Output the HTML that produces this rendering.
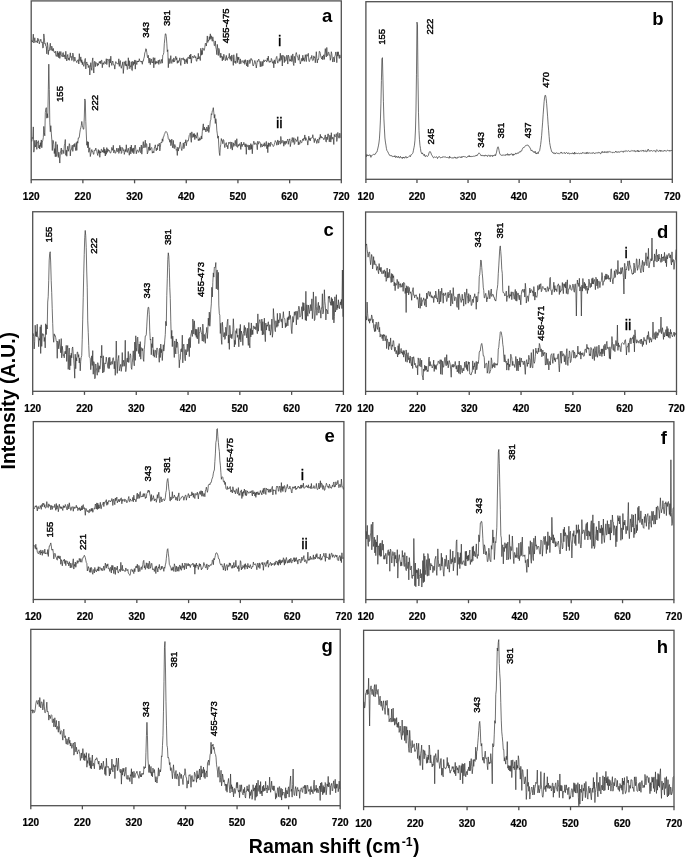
<!DOCTYPE html>
<html><head><meta charset="utf-8"><style>
html,body{margin:0;padding:0;background:#fff;}
body{width:685px;height:857px;overflow:hidden;}
svg{display:block;font-family:"Liberation Sans",sans-serif;filter:grayscale(1);}
</style></head><body>
<svg width="685" height="857" viewBox="0 0 685 857">
<rect width="685" height="857" fill="#fff"/>
<rect x="31.2" y="0.9" width="310.1" height="178.8" fill="none" stroke="#505050" stroke-width="1.3"/>
<line x1="31.2" y1="179.7" x2="31.2" y2="183.3" stroke="#505050" stroke-width="1.3"/>
<text x="31.2" y="200.2" text-anchor="middle" font-size="10" font-weight="bold" stroke="#000" stroke-width="0.2">120</text>
<line x1="82.88" y1="179.7" x2="82.88" y2="183.3" stroke="#505050" stroke-width="1.3"/>
<text x="82.88" y="200.2" text-anchor="middle" font-size="10" font-weight="bold" stroke="#000" stroke-width="0.2">220</text>
<line x1="134.57" y1="179.7" x2="134.57" y2="183.3" stroke="#505050" stroke-width="1.3"/>
<text x="134.57" y="200.2" text-anchor="middle" font-size="10" font-weight="bold" stroke="#000" stroke-width="0.2">320</text>
<line x1="186.25" y1="179.7" x2="186.25" y2="183.3" stroke="#505050" stroke-width="1.3"/>
<text x="186.25" y="200.2" text-anchor="middle" font-size="10" font-weight="bold" stroke="#000" stroke-width="0.2">420</text>
<line x1="237.93" y1="179.7" x2="237.93" y2="183.3" stroke="#505050" stroke-width="1.3"/>
<text x="237.93" y="200.2" text-anchor="middle" font-size="10" font-weight="bold" stroke="#000" stroke-width="0.2">520</text>
<line x1="289.62" y1="179.7" x2="289.62" y2="183.3" stroke="#505050" stroke-width="1.3"/>
<text x="289.62" y="200.2" text-anchor="middle" font-size="10" font-weight="bold" stroke="#000" stroke-width="0.2">620</text>
<line x1="341.3" y1="179.7" x2="341.3" y2="183.3" stroke="#505050" stroke-width="1.3"/>
<text x="341.3" y="200.2" text-anchor="middle" font-size="10" font-weight="bold" stroke="#000" stroke-width="0.2">720</text>
<rect x="365.9" y="1.7" width="306.4" height="177.6" fill="none" stroke="#505050" stroke-width="1.3"/>
<line x1="365.9" y1="179.3" x2="365.9" y2="182.9" stroke="#505050" stroke-width="1.3"/>
<text x="365.9" y="199.8" text-anchor="middle" font-size="10" font-weight="bold" stroke="#000" stroke-width="0.2">120</text>
<line x1="416.97" y1="179.3" x2="416.97" y2="182.9" stroke="#505050" stroke-width="1.3"/>
<text x="416.97" y="199.8" text-anchor="middle" font-size="10" font-weight="bold" stroke="#000" stroke-width="0.2">220</text>
<line x1="468.03" y1="179.3" x2="468.03" y2="182.9" stroke="#505050" stroke-width="1.3"/>
<text x="468.03" y="199.8" text-anchor="middle" font-size="10" font-weight="bold" stroke="#000" stroke-width="0.2">320</text>
<line x1="519.1" y1="179.3" x2="519.1" y2="182.9" stroke="#505050" stroke-width="1.3"/>
<text x="519.1" y="199.8" text-anchor="middle" font-size="10" font-weight="bold" stroke="#000" stroke-width="0.2">420</text>
<line x1="570.17" y1="179.3" x2="570.17" y2="182.9" stroke="#505050" stroke-width="1.3"/>
<text x="570.17" y="199.8" text-anchor="middle" font-size="10" font-weight="bold" stroke="#000" stroke-width="0.2">520</text>
<line x1="621.23" y1="179.3" x2="621.23" y2="182.9" stroke="#505050" stroke-width="1.3"/>
<text x="621.23" y="199.8" text-anchor="middle" font-size="10" font-weight="bold" stroke="#000" stroke-width="0.2">620</text>
<line x1="672.3" y1="179.3" x2="672.3" y2="182.9" stroke="#505050" stroke-width="1.3"/>
<text x="672.3" y="199.8" text-anchor="middle" font-size="10" font-weight="bold" stroke="#000" stroke-width="0.2">720</text>
<rect x="32.7" y="211.75" width="310.7" height="179.55" fill="none" stroke="#505050" stroke-width="1.3"/>
<line x1="32.7" y1="391.3" x2="32.7" y2="394.9" stroke="#505050" stroke-width="1.3"/>
<text x="32.7" y="411.8" text-anchor="middle" font-size="10" font-weight="bold" stroke="#000" stroke-width="0.2">120</text>
<line x1="84.48" y1="391.3" x2="84.48" y2="394.9" stroke="#505050" stroke-width="1.3"/>
<text x="84.48" y="411.8" text-anchor="middle" font-size="10" font-weight="bold" stroke="#000" stroke-width="0.2">220</text>
<line x1="136.27" y1="391.3" x2="136.27" y2="394.9" stroke="#505050" stroke-width="1.3"/>
<text x="136.27" y="411.8" text-anchor="middle" font-size="10" font-weight="bold" stroke="#000" stroke-width="0.2">320</text>
<line x1="188.05" y1="391.3" x2="188.05" y2="394.9" stroke="#505050" stroke-width="1.3"/>
<text x="188.05" y="411.8" text-anchor="middle" font-size="10" font-weight="bold" stroke="#000" stroke-width="0.2">420</text>
<line x1="239.83" y1="391.3" x2="239.83" y2="394.9" stroke="#505050" stroke-width="1.3"/>
<text x="239.83" y="411.8" text-anchor="middle" font-size="10" font-weight="bold" stroke="#000" stroke-width="0.2">520</text>
<line x1="291.62" y1="391.3" x2="291.62" y2="394.9" stroke="#505050" stroke-width="1.3"/>
<text x="291.62" y="411.8" text-anchor="middle" font-size="10" font-weight="bold" stroke="#000" stroke-width="0.2">620</text>
<line x1="343.4" y1="391.3" x2="343.4" y2="394.9" stroke="#505050" stroke-width="1.3"/>
<text x="343.4" y="411.8" text-anchor="middle" font-size="10" font-weight="bold" stroke="#000" stroke-width="0.2">720</text>
<rect x="365.6" y="212" width="310.9" height="179.4" fill="none" stroke="#505050" stroke-width="1.3"/>
<line x1="365.6" y1="391.4" x2="365.6" y2="395" stroke="#505050" stroke-width="1.3"/>
<text x="365.6" y="411.9" text-anchor="middle" font-size="10" font-weight="bold" stroke="#000" stroke-width="0.2">120</text>
<line x1="417.42" y1="391.4" x2="417.42" y2="395" stroke="#505050" stroke-width="1.3"/>
<text x="417.42" y="411.9" text-anchor="middle" font-size="10" font-weight="bold" stroke="#000" stroke-width="0.2">220</text>
<line x1="469.23" y1="391.4" x2="469.23" y2="395" stroke="#505050" stroke-width="1.3"/>
<text x="469.23" y="411.9" text-anchor="middle" font-size="10" font-weight="bold" stroke="#000" stroke-width="0.2">320</text>
<line x1="521.05" y1="391.4" x2="521.05" y2="395" stroke="#505050" stroke-width="1.3"/>
<text x="521.05" y="411.9" text-anchor="middle" font-size="10" font-weight="bold" stroke="#000" stroke-width="0.2">420</text>
<line x1="572.87" y1="391.4" x2="572.87" y2="395" stroke="#505050" stroke-width="1.3"/>
<text x="572.87" y="411.9" text-anchor="middle" font-size="10" font-weight="bold" stroke="#000" stroke-width="0.2">520</text>
<line x1="624.68" y1="391.4" x2="624.68" y2="395" stroke="#505050" stroke-width="1.3"/>
<text x="624.68" y="411.9" text-anchor="middle" font-size="10" font-weight="bold" stroke="#000" stroke-width="0.2">620</text>
<line x1="676.5" y1="391.4" x2="676.5" y2="395" stroke="#505050" stroke-width="1.3"/>
<text x="676.5" y="411.9" text-anchor="middle" font-size="10" font-weight="bold" stroke="#000" stroke-width="0.2">720</text>
<rect x="33.3" y="421.6" width="310.6" height="177.9" fill="none" stroke="#505050" stroke-width="1.3"/>
<line x1="33.3" y1="599.5" x2="33.3" y2="603.1" stroke="#505050" stroke-width="1.3"/>
<text x="33.3" y="620" text-anchor="middle" font-size="10" font-weight="bold" stroke="#000" stroke-width="0.2">120</text>
<line x1="85.07" y1="599.5" x2="85.07" y2="603.1" stroke="#505050" stroke-width="1.3"/>
<text x="85.07" y="620" text-anchor="middle" font-size="10" font-weight="bold" stroke="#000" stroke-width="0.2">220</text>
<line x1="136.83" y1="599.5" x2="136.83" y2="603.1" stroke="#505050" stroke-width="1.3"/>
<text x="136.83" y="620" text-anchor="middle" font-size="10" font-weight="bold" stroke="#000" stroke-width="0.2">320</text>
<line x1="188.6" y1="599.5" x2="188.6" y2="603.1" stroke="#505050" stroke-width="1.3"/>
<text x="188.6" y="620" text-anchor="middle" font-size="10" font-weight="bold" stroke="#000" stroke-width="0.2">420</text>
<line x1="240.37" y1="599.5" x2="240.37" y2="603.1" stroke="#505050" stroke-width="1.3"/>
<text x="240.37" y="620" text-anchor="middle" font-size="10" font-weight="bold" stroke="#000" stroke-width="0.2">520</text>
<line x1="292.13" y1="599.5" x2="292.13" y2="603.1" stroke="#505050" stroke-width="1.3"/>
<text x="292.13" y="620" text-anchor="middle" font-size="10" font-weight="bold" stroke="#000" stroke-width="0.2">620</text>
<line x1="343.9" y1="599.5" x2="343.9" y2="603.1" stroke="#505050" stroke-width="1.3"/>
<text x="343.9" y="620" text-anchor="middle" font-size="10" font-weight="bold" stroke="#000" stroke-width="0.2">720</text>
<rect x="365.8" y="421.7" width="308.1" height="177.9" fill="none" stroke="#505050" stroke-width="1.3"/>
<line x1="365.8" y1="599.6" x2="365.8" y2="603.2" stroke="#505050" stroke-width="1.3"/>
<text x="365.8" y="620.1" text-anchor="middle" font-size="10" font-weight="bold" stroke="#000" stroke-width="0.2">120</text>
<line x1="417.15" y1="599.6" x2="417.15" y2="603.2" stroke="#505050" stroke-width="1.3"/>
<text x="417.15" y="620.1" text-anchor="middle" font-size="10" font-weight="bold" stroke="#000" stroke-width="0.2">220</text>
<line x1="468.5" y1="599.6" x2="468.5" y2="603.2" stroke="#505050" stroke-width="1.3"/>
<text x="468.5" y="620.1" text-anchor="middle" font-size="10" font-weight="bold" stroke="#000" stroke-width="0.2">320</text>
<line x1="519.85" y1="599.6" x2="519.85" y2="603.2" stroke="#505050" stroke-width="1.3"/>
<text x="519.85" y="620.1" text-anchor="middle" font-size="10" font-weight="bold" stroke="#000" stroke-width="0.2">420</text>
<line x1="571.2" y1="599.6" x2="571.2" y2="603.2" stroke="#505050" stroke-width="1.3"/>
<text x="571.2" y="620.1" text-anchor="middle" font-size="10" font-weight="bold" stroke="#000" stroke-width="0.2">520</text>
<line x1="622.55" y1="599.6" x2="622.55" y2="603.2" stroke="#505050" stroke-width="1.3"/>
<text x="622.55" y="620.1" text-anchor="middle" font-size="10" font-weight="bold" stroke="#000" stroke-width="0.2">620</text>
<line x1="673.9" y1="599.6" x2="673.9" y2="603.2" stroke="#505050" stroke-width="1.3"/>
<text x="673.9" y="620.1" text-anchor="middle" font-size="10" font-weight="bold" stroke="#000" stroke-width="0.2">720</text>
<rect x="30.8" y="629.35" width="309.4" height="176.35" fill="none" stroke="#505050" stroke-width="1.3"/>
<line x1="30.8" y1="805.7" x2="30.8" y2="809.3" stroke="#505050" stroke-width="1.3"/>
<text x="30.8" y="826.2" text-anchor="middle" font-size="10" font-weight="bold" stroke="#000" stroke-width="0.2">120</text>
<line x1="82.37" y1="805.7" x2="82.37" y2="809.3" stroke="#505050" stroke-width="1.3"/>
<text x="82.37" y="826.2" text-anchor="middle" font-size="10" font-weight="bold" stroke="#000" stroke-width="0.2">220</text>
<line x1="133.93" y1="805.7" x2="133.93" y2="809.3" stroke="#505050" stroke-width="1.3"/>
<text x="133.93" y="826.2" text-anchor="middle" font-size="10" font-weight="bold" stroke="#000" stroke-width="0.2">320</text>
<line x1="185.5" y1="805.7" x2="185.5" y2="809.3" stroke="#505050" stroke-width="1.3"/>
<text x="185.5" y="826.2" text-anchor="middle" font-size="10" font-weight="bold" stroke="#000" stroke-width="0.2">420</text>
<line x1="237.07" y1="805.7" x2="237.07" y2="809.3" stroke="#505050" stroke-width="1.3"/>
<text x="237.07" y="826.2" text-anchor="middle" font-size="10" font-weight="bold" stroke="#000" stroke-width="0.2">520</text>
<line x1="288.63" y1="805.7" x2="288.63" y2="809.3" stroke="#505050" stroke-width="1.3"/>
<text x="288.63" y="826.2" text-anchor="middle" font-size="10" font-weight="bold" stroke="#000" stroke-width="0.2">620</text>
<line x1="340.2" y1="805.7" x2="340.2" y2="809.3" stroke="#505050" stroke-width="1.3"/>
<text x="340.2" y="826.2" text-anchor="middle" font-size="10" font-weight="bold" stroke="#000" stroke-width="0.2">720</text>
<rect x="363.6" y="630.3" width="310.4" height="176.3" fill="none" stroke="#505050" stroke-width="1.3"/>
<line x1="363.6" y1="806.6" x2="363.6" y2="810.2" stroke="#505050" stroke-width="1.3"/>
<text x="363.6" y="827.1" text-anchor="middle" font-size="10" font-weight="bold" stroke="#000" stroke-width="0.2">120</text>
<line x1="415.33" y1="806.6" x2="415.33" y2="810.2" stroke="#505050" stroke-width="1.3"/>
<text x="415.33" y="827.1" text-anchor="middle" font-size="10" font-weight="bold" stroke="#000" stroke-width="0.2">220</text>
<line x1="467.07" y1="806.6" x2="467.07" y2="810.2" stroke="#505050" stroke-width="1.3"/>
<text x="467.07" y="827.1" text-anchor="middle" font-size="10" font-weight="bold" stroke="#000" stroke-width="0.2">320</text>
<line x1="518.8" y1="806.6" x2="518.8" y2="810.2" stroke="#505050" stroke-width="1.3"/>
<text x="518.8" y="827.1" text-anchor="middle" font-size="10" font-weight="bold" stroke="#000" stroke-width="0.2">420</text>
<line x1="570.53" y1="806.6" x2="570.53" y2="810.2" stroke="#505050" stroke-width="1.3"/>
<text x="570.53" y="827.1" text-anchor="middle" font-size="10" font-weight="bold" stroke="#000" stroke-width="0.2">520</text>
<line x1="622.27" y1="806.6" x2="622.27" y2="810.2" stroke="#505050" stroke-width="1.3"/>
<text x="622.27" y="827.1" text-anchor="middle" font-size="10" font-weight="bold" stroke="#000" stroke-width="0.2">620</text>
<line x1="674" y1="806.6" x2="674" y2="810.2" stroke="#505050" stroke-width="1.3"/>
<text x="674" y="827.1" text-anchor="middle" font-size="10" font-weight="bold" stroke="#000" stroke-width="0.2">720</text>
<polyline fill="none" stroke="#333" stroke-width="0.7" stroke-linejoin="round" points="31.8,40.07 32.3,42.15 32.8,40.38 33.3,34.13 33.8,43.02 34.3,41.41 34.8,37.75 35.3,42.31 35.8,41.65 36.3,41.56 36.8,40.73 37.3,42.92 37.8,38.17 38.3,40.57 38.8,39.54 39.3,43.86 39.8,41.92 40.3,40.85 40.8,39.2 41.3,41.38 41.8,42.6 42.3,41.9 42.8,48.11 43.3,47.39 43.8,33.95 44.3,37.38 44.8,44.07 45.3,43.52 45.8,46.21 46.3,46.58 46.8,53.84 47.3,42.47 47.8,45.49 48.3,54.63 48.8,50.04 49.3,50.54 49.8,46.79 50.3,43.21 50.8,50.11 51.3,50.36 51.8,46.1 52.3,48.47 52.8,51.07 53.3,48.38 53.8,51.62 54.3,52.57 54.8,52.65 55.3,51.07 55.8,55.14 56.3,56.43 56.8,54.76 57.3,51.18 57.8,56.72 58.3,52.84 58.8,57.77 59.3,51.51 59.8,58.44 60.3,55.5 60.8,51.51 61.3,54.73 61.8,56.05 62.3,56.88 62.8,52.83 63.3,52.53 63.8,56.95 64.3,54.86 64.8,57.28 65.3,59.1 65.8,51.29 66.3,57.65 66.8,60.93 67.3,56.05 67.8,54.47 68.3,59.68 68.8,58.16 69.3,60.35 69.8,56.42 70.3,52.83 70.8,57.39 71.3,56.41 71.8,60.47 72.3,58.74 72.8,53.05 73.3,54.65 73.8,61.54 74.3,61.07 74.8,57.02 75.3,59.27 75.8,60.89 76.3,61.15 76.8,62.64 77.3,60.86 77.8,59.93 78.3,59.6 78.8,63.97 79.3,53.67 79.8,60.56 80.3,61.3 80.8,56.88 81.3,62.63 81.8,59.72 82.3,64.68 82.8,61.76 83.3,64.45 83.8,66.36 84.3,63.93 84.8,60.18 85.3,58.45 85.8,68.95 86.3,63.43 86.8,61.94 87.3,64.83 87.8,64.09 88.3,67.62 88.8,65.38 89.3,65.62 89.8,75 90.3,67.39 90.8,62.66 91.3,67.79 91.8,70.32 92.3,60.87 92.8,57.89 93.3,67.23 93.8,73.02 94.3,62.09 94.8,61.23 95.3,66.73 95.8,62.29 96.3,63.21 96.8,63.59 97.3,66.15 97.8,63.22 98.3,65.18 98.8,63.71 99.3,61.6 99.8,63.08 100.3,61.06 100.8,63.79 101.3,60.26 101.8,60.21 102.3,67.71 102.8,63.04 103.3,62.9 103.8,64.45 104.3,61.51 104.8,61.94 105.3,63.76 105.8,63.19 106.3,58.72 106.8,64.56 107.3,60.27 107.8,58.95 108.3,59.5 108.8,61.11 109.3,67.24 109.8,58.9 110.3,62.99 110.8,56.17 111.3,62.66 111.8,65.44 112.3,62.11 112.8,61 113.3,63.66 113.8,65.15 114.3,65.11 114.8,69.12 115.3,63.9 115.8,61.58 116.3,63.05 116.8,63.29 117.3,63.91 117.8,63.57 118.3,64.26 118.8,58.8 119.3,66.38 119.8,62.25 120.3,60.56 120.8,66.11 121.3,68.28 121.8,65.93 122.3,65.06 122.8,61.9 123.3,73.44 123.8,67.59 124.3,61.66 124.8,62.86 125.3,65.59 125.8,60.79 126.3,66.08 126.8,64.32 127.3,69.5 127.8,68.84 128.3,57.77 128.8,65.86 129.3,60.71 129.8,68.73 130.3,65.74 130.8,66.71 131.3,61.7 131.8,70.22 132.3,70.63 132.8,61.21 133.3,65.35 133.8,62.05 134.3,63.83 134.8,59.94 135.3,69.17 135.8,60.49 136.3,62.35 136.8,64.57 137.3,60.96 137.8,62.02 138.3,60.88 138.8,62 139.3,58.72 139.8,60.75 140.3,61.39 140.8,61.02 141.3,62.2 141.8,61.16 142.3,64.27 142.8,60.93 143.3,61.05 143.8,58.56 144.3,56.96 144.8,52.86 145.3,51.87 145.8,48.65 146.3,49.08 146.8,52.46 147.3,56.35 147.8,57.83 148.3,55.27 148.8,62.95 149.3,62.88 149.8,58.01 150.3,64.59 150.8,60.2 151.3,58.94 151.8,62.61 152.3,61.81 152.8,62.96 153.3,57.55 153.8,67.82 154.3,60.59 154.8,57.79 155.3,64.28 155.8,61.37 156.3,63.43 156.8,61.45 157.3,62.3 157.8,63.23 158.3,60.22 158.8,64.44 159.3,60.94 159.8,59.68 160.3,62.46 160.8,63.5 161.3,61.38 161.8,59.29 162.3,63.17 162.8,55.07 163.3,54.65 163.8,52.62 164.3,43.7 164.8,38.82 165.3,33.89 165.8,33.81 166.3,36.62 166.8,43.2 167.3,51.61 167.8,49.81 168.3,67.68 168.8,58.37 169.3,58.75 169.8,63.63 170.3,60.92 170.8,55.65 171.3,62.82 171.8,63.44 172.3,59.47 172.8,59.91 173.3,62.16 173.8,57.91 174.3,61.9 174.8,61.12 175.3,58.45 175.8,56.27 176.3,59.73 176.8,57.75 177.3,63.34 177.8,60.73 178.3,62.61 178.8,60.63 179.3,60.98 179.8,57.81 180.3,62.13 180.8,65.44 181.3,59.12 181.8,58.24 182.3,59.49 182.8,58.47 183.3,57.76 183.8,60.22 184.3,58.88 184.8,64.02 185.3,59.65 185.8,60.56 186.3,62.4 186.8,58.58 187.3,63.74 187.8,57.48 188.3,56.9 188.8,58.17 189.3,58.87 189.8,54.96 190.3,59 190.8,54.05 191.3,63.17 191.8,58.69 192.3,56.94 192.8,56.08 193.3,57.58 193.8,57.99 194.3,55.44 194.8,55.72 195.3,57.81 195.8,56.68 196.3,60.94 196.8,61.39 197.3,57.86 197.8,59.02 198.3,53.35 198.8,58.96 199.3,56.59 199.8,57.7 200.3,60.53 200.8,48.29 201.3,55.24 201.8,50.38 202.3,54.59 202.8,47.91 203.3,49.32 203.8,50.28 204.3,50.32 204.8,47.46 205.3,43.57 205.8,43 206.3,46.04 206.8,42.14 207.3,35.95 207.8,42.47 208.3,40.26 208.8,40.86 209.3,36.63 209.8,39.71 210.3,33.84 210.8,38.74 211.3,35.77 211.8,39.68 212.3,41.27 212.8,36.82 213.3,39.8 213.8,41.11 214.3,45.71 214.8,45.48 215.3,40.93 215.8,47.22 216.3,49.32 216.8,54.66 217.3,44.4 217.8,48.91 218.3,55.51 218.8,48.35 219.3,49.64 219.8,55.51 220.3,57.64 220.8,53.12 221.3,57.21 221.8,56.33 222.3,60.85 222.8,56.55 223.3,59.74 223.8,54.22 224.3,56.5 224.8,56.87 225.3,60.72 225.8,59.23 226.3,55.41 226.8,59.86 227.3,60.27 227.8,57.77 228.3,57.46 228.8,57.78 229.3,53.4 229.8,59.17 230.3,59.43 230.8,56.25 231.3,61.19 231.8,54.97 232.3,57.55 232.8,57.89 233.3,65.4 233.8,54.76 234.3,61.36 234.8,62.61 235.3,61.04 235.8,63.57 236.3,57.13 236.8,53.41 237.3,62.67 237.8,56.9 238.3,59.62 238.8,57.18 239.3,63.99 239.8,63.55 240.3,58.86 240.8,63.78 241.3,61.47 241.8,60.73 242.3,61.36 242.8,60.63 243.3,63.12 243.8,62.25 244.3,60.31 244.8,64.42 245.3,59.61 245.8,62.34 246.3,62.79 246.8,66 247.3,60.09 247.8,66.88 248.3,62.22 248.8,61.15 249.3,59.76 249.8,63.58 250.3,62.01 250.8,58.59 251.3,58.56 251.8,60.32 252.3,59.95 252.8,65.2 253.3,66.02 253.8,64.46 254.3,62.88 254.8,60.48 255.3,61.89 255.8,64.34 256.3,68.03 256.8,64.34 257.3,60.72 257.8,61.63 258.3,60.03 258.8,59.09 259.3,60.84 259.8,61.94 260.3,66.82 260.8,61.42 261.3,65.3 261.8,66.49 262.3,61.38 262.8,65.92 263.3,63.2 263.8,59.76 264.3,61.77 264.8,61 265.3,60.19 265.8,60.25 266.3,61.24 266.8,62.07 267.3,58.07 267.8,60.66 268.3,56.07 268.8,61.38 269.3,62.43 269.8,61.01 270.3,61.33 270.8,62.2 271.3,58.4 271.8,59.63 272.3,61.84 272.8,63.27 273.3,61.41 273.8,67.84 274.3,59.87 274.8,63.1 275.3,63.86 275.8,59.62 276.3,57.51 276.8,56.39 277.3,60.38 277.8,63.18 278.3,60.62 278.8,60.29 279.3,58.59 279.8,61.37 280.3,53.23 280.8,60.3 281.3,59.64 281.8,55.41 282.3,66 282.8,55.27 283.3,56.16 283.8,55.75 284.3,62.64 284.8,56.6 285.3,61.23 285.8,60.95 286.3,59.92 286.8,55.18 287.3,57.22 287.8,64.04 288.3,55.11 288.8,56.46 289.3,58.44 289.8,61.32 290.3,59.62 290.8,61.06 291.3,55.6 291.8,61.61 292.3,60.45 292.8,53.93 293.3,63.31 293.8,65.54 294.3,56.32 294.8,58.77 295.3,62.76 295.8,54.1 296.3,52.54 296.8,54.59 297.3,56.75 297.8,56.69 298.3,60.22 298.8,59.17 299.3,54.6 299.8,60.01 300.3,63.9 300.8,61.84 301.3,61.19 301.8,58.25 302.3,61.11 302.8,55.23 303.3,60.35 303.8,57.81 304.3,61.43 304.8,59.41 305.3,54.71 305.8,58.34 306.3,61.58 306.8,54.51 307.3,56.19 307.8,55.53 308.3,53.32 308.8,60.66 309.3,61.68 309.8,60.12 310.3,58.42 310.8,57.5 311.3,58.35 311.8,55.41 312.3,60.25 312.8,60.68 313.3,60.31 313.8,55.89 314.3,57.69 314.8,56.93 315.3,62.76 315.8,57.9 316.3,51.69 316.8,58.5 317.3,62.92 317.8,59.3 318.3,59.86 318.8,57.3 319.3,51.24 319.8,51.7 320.3,53.36 320.8,56.69 321.3,57.97 321.8,59.08 322.3,55.96 322.8,59.82 323.3,56.08 323.8,54.78 324.3,59.42 324.8,54.09 325.3,48.62 325.8,53.6 326.3,57.03 326.8,47.48 327.3,55.62 327.8,55.66 328.3,52.35 328.8,52.15 329.3,55.18 329.8,54.9 330.3,60.29 330.8,57.61 331.3,51.71 331.8,53.86 332.3,58.51 332.8,62.05 333.3,57.49 333.8,57.24 334.3,61.86 334.8,56.18 335.3,55.29 335.8,51.95 336.3,54.62 336.8,62.67 337.3,51.83 337.8,56.1 338.3,51.82 338.8,56.4 339.3,58.51 339.8,54.87 340.3,57.54 340.8,57.26"/>
<polyline fill="none" stroke="#333" stroke-width="0.7" stroke-linejoin="round" points="31.8,141.45 32.3,137.53 32.8,138.51 33.3,126.9 33.8,152.15 34.3,148.6 34.8,140.34 35.3,147.04 35.8,144.49 36.3,140.11 36.8,149.37 37.3,142.48 37.8,142.85 38.3,140.67 38.8,148.09 39.3,145.27 39.8,149.06 40.3,142.67 40.8,146.55 41.3,139.94 41.8,147.78 42.3,142.07 42.8,140.25 43.3,137.6 43.8,126.41 44.3,132.52 44.8,135.79 45.3,112.62 45.8,109.02 46.3,107.66 46.8,118.22 47.3,113.67 47.8,117.72 48.3,89.85 48.8,64.16 49.3,89.27 49.8,122.87 50.3,131.72 50.8,125.7 51.3,133.04 51.8,139.8 52.3,150.54 52.8,140.17 53.3,140.62 53.8,144.78 54.3,153.56 54.8,148.59 55.3,156.81 55.8,141.65 56.3,156.47 56.8,156.2 57.3,144.59 57.8,152.25 58.3,157.41 58.8,152.17 59.3,156.55 59.8,163.06 60.3,153.17 60.8,150.44 61.3,148.02 61.8,154.37 62.3,150.34 62.8,150.26 63.3,150.43 63.8,153.64 64.3,145.82 64.8,143.63 65.3,139.52 65.8,155.31 66.3,150.22 66.8,156.27 67.3,149.53 67.8,146.23 68.3,151.27 68.8,148.74 69.3,143.63 69.8,145.04 70.3,155.9 70.8,149.86 71.3,149.94 71.8,146.93 72.3,145.12 72.8,151.36 73.3,147.2 73.8,144.43 74.3,146.72 74.8,143.44 75.3,147.41 75.8,150.61 76.3,142.43 76.8,150.35 77.3,141.34 77.8,143.16 78.3,137.85 78.8,138.25 79.3,137.06 79.8,132.87 80.3,129.68 80.8,127.8 81.3,125.51 81.8,121.44 82.3,125.23 82.8,127.29 83.3,129.25 83.8,129.12 84.3,117.02 84.8,98.96 85.3,100.76 85.8,121.6 86.3,134 86.8,145.25 87.3,141.52 87.8,147.89 88.3,141.89 88.8,152.3 89.3,149.72 89.8,147.76 90.3,156.55 90.8,153.93 91.3,151.87 91.8,149.55 92.3,151.78 92.8,151.46 93.3,154.15 93.8,154.36 94.3,150.02 94.8,150.39 95.3,150.44 95.8,148.07 96.3,150.24 96.8,151.64 97.3,153.8 97.8,155.51 98.3,149.59 98.8,153.29 99.3,150.55 99.8,157.28 100.3,151.57 100.8,153.01 101.3,149.14 101.8,149.45 102.3,152.12 102.8,150.53 103.3,152.47 103.8,147.33 104.3,153.23 104.8,149.04 105.3,156 105.8,150.61 106.3,154.28 106.8,147.61 107.3,152.44 107.8,148.9 108.3,149.94 108.8,151.28 109.3,150.34 109.8,151.86 110.3,153.12 110.8,152.84 111.3,150.84 111.8,147.4 112.3,148.87 112.8,150.46 113.3,145.3 113.8,152.93 114.3,150.26 114.8,150.2 115.3,153.37 115.8,152.59 116.3,151.37 116.8,148.08 117.3,151.55 117.8,151.62 118.3,148.31 118.8,153.42 119.3,151.97 119.8,145.33 120.3,150.88 120.8,147.15 121.3,153.53 121.8,152.62 122.3,147.5 122.8,148.05 123.3,150.65 123.8,149.72 124.3,154.39 124.8,152.27 125.3,149.52 125.8,151.78 126.3,144.79 126.8,151.01 127.3,152.46 127.8,149.65 128.3,148.2 128.8,151.58 129.3,155.26 129.8,150.56 130.3,147.03 130.8,153.9 131.3,145.06 131.8,151.44 132.3,148.58 132.8,152.64 133.3,147.92 133.8,153.74 134.3,151.04 134.8,145.66 135.3,145.03 135.8,149.48 136.3,153.8 136.8,150.72 137.3,150.58 137.8,149.8 138.3,152.43 138.8,151.5 139.3,150.98 139.8,147.17 140.3,152.52 140.8,152.55 141.3,145 141.8,154.17 142.3,149.51 142.8,145.85 143.3,141.63 143.8,148.02 144.3,147.31 144.8,143.79 145.3,140.17 145.8,147.5 146.3,143.54 146.8,144.45 147.3,153.9 147.8,152.59 148.3,150.07 148.8,146.91 149.3,150.47 149.8,143.25 150.3,150.23 150.8,148.52 151.3,147.72 151.8,147.54 152.3,153.18 152.8,151.65 153.3,151.47 153.8,152.92 154.3,148.05 154.8,146.64 155.3,144.83 155.8,148.31 156.3,150.86 156.8,148.06 157.3,149.8 157.8,144.57 158.3,146.08 158.8,144.9 159.3,143.2 159.8,150.9 160.3,147.67 160.8,142.85 161.3,142.04 161.8,142.85 162.3,138.84 162.8,141.36 163.3,136.87 163.8,136.72 164.3,134.45 164.8,133.56 165.3,132.05 165.8,131.44 166.3,131.65 166.8,132.25 167.3,133.47 167.8,135.18 168.3,138.74 168.8,139.55 169.3,139.08 169.8,142.25 170.3,139.92 170.8,145.66 171.3,143.86 171.8,139.14 172.3,145.83 172.8,147.86 173.3,140.36 173.8,147.29 174.3,148.59 174.8,144.48 175.3,146.54 175.8,146.62 176.3,150.27 176.8,149.48 177.3,155.45 177.8,147.16 178.3,151.05 178.8,147.95 179.3,148.23 179.8,144.18 180.3,141.94 180.8,144.75 181.3,148.6 181.8,150.55 182.3,147.7 182.8,147 183.3,142.89 183.8,148.67 184.3,147.62 184.8,142.08 185.3,142.82 185.8,139.74 186.3,145.77 186.8,142.39 187.3,140.51 187.8,141.3 188.3,140.85 188.8,138.03 189.3,135.27 189.8,134.61 190.3,132.86 190.8,138.18 191.3,142.32 191.8,131.87 192.3,136.77 192.8,137.5 193.3,133.77 193.8,136.95 194.3,133.47 194.8,139.6 195.3,134.82 195.8,136.67 196.3,138.22 196.8,135.63 197.3,132.63 197.8,136.62 198.3,140.7 198.8,139.07 199.3,140.53 199.8,137.67 200.3,140.03 200.8,139.68 201.3,135.91 201.8,138.99 202.3,131.43 202.8,127.29 203.3,123.84 203.8,130.13 204.3,127.06 204.8,130.07 205.3,128.74 205.8,132.01 206.3,131.21 206.8,126.98 207.3,128.87 207.8,131.19 208.3,125.15 208.8,132.47 209.3,129.42 209.8,126.4 210.3,120.84 210.8,119.77 211.3,113.71 211.8,114.66 212.3,110.76 212.8,110.38 213.3,107.68 213.8,112.76 214.3,118.14 214.8,114.51 215.3,123.47 215.8,118.69 216.3,121.51 216.8,130.22 217.3,133.83 217.8,138.26 218.3,135.95 218.8,145.93 219.3,152.79 219.8,155.55 220.3,147.26 220.8,144.28 221.3,138.54 221.8,140.88 222.3,140.43 222.8,143.73 223.3,139.46 223.8,140.11 224.3,144.11 224.8,147.59 225.3,144.07 225.8,144.1 226.3,142.61 226.8,146.67 227.3,145.45 227.8,148.87 228.3,145.37 228.8,142.19 229.3,143.44 229.8,142.57 230.3,141.89 230.8,148.63 231.3,147.44 231.8,142.01 232.3,150.1 232.8,146.03 233.3,142.85 233.8,146.46 234.3,145.28 234.8,143.43 235.3,140.34 235.8,145.65 236.3,146.36 236.8,138.73 237.3,147.12 237.8,147.32 238.3,144.44 238.8,146.03 239.3,145.01 239.8,143.55 240.3,144.85 240.8,149.45 241.3,142.01 241.8,146.54 242.3,146.42 242.8,144.07 243.3,144.82 243.8,142.29 244.3,143.78 244.8,146.12 245.3,146.98 245.8,143.74 246.3,154.32 246.8,144.67 247.3,146.56 247.8,145.64 248.3,145.22 248.8,149.78 249.3,145.07 249.8,149.93 250.3,149.45 250.8,143.64 251.3,149.22 251.8,144.75 252.3,153.76 252.8,145.37 253.3,143.83 253.8,141.18 254.3,142.76 254.8,144.6 255.3,143.43 255.8,142.75 256.3,144.11 256.8,145.35 257.3,149.7 257.8,141.23 258.3,144.24 258.8,143.11 259.3,141.55 259.8,142.15 260.3,143.05 260.8,147.31 261.3,144.82 261.8,143.84 262.3,146.84 262.8,145.9 263.3,144.49 263.8,146.05 264.3,142.75 264.8,146.57 265.3,146.08 265.8,143.68 266.3,141.46 266.8,148.7 267.3,144.84 267.8,152.66 268.3,142.72 268.8,146.67 269.3,143.18 269.8,144.95 270.3,146.43 270.8,142.02 271.3,143.82 271.8,144.45 272.3,144.27 272.8,145.49 273.3,146.57 273.8,146 274.3,144.41 274.8,142.72 275.3,140.58 275.8,141.56 276.3,142.05 276.8,145.22 277.3,142.37 277.8,139.96 278.3,144.88 278.8,141.01 279.3,141.05 279.8,142.42 280.3,144.22 280.8,136.46 281.3,139.85 281.8,143.24 282.3,141.74 282.8,140.34 283.3,141.14 283.8,146.22 284.3,141.25 284.8,144.3 285.3,144.45 285.8,141.07 286.3,143.4 286.8,140.95 287.3,140.46 287.8,139.02 288.3,144.3 288.8,140.86 289.3,140.4 289.8,138.82 290.3,146.6 290.8,143.7 291.3,141.32 291.8,139.77 292.3,137.5 292.8,142.31 293.3,142.25 293.8,137.68 294.3,144.48 294.8,143.4 295.3,138.72 295.8,139.75 296.3,140.05 296.8,141.57 297.3,140.7 297.8,136.67 298.3,144.92 298.8,141.78 299.3,144.25 299.8,144.19 300.3,140.24 300.8,141.66 301.3,142.66 301.8,142.7 302.3,140.16 302.8,138.9 303.3,140.59 303.8,138.31 304.3,138.92 304.8,134.94 305.3,140.53 305.8,137.52 306.3,138.72 306.8,140.02 307.3,140.94 307.8,145.1 308.3,140.55 308.8,136.19 309.3,140.26 309.8,138.27 310.3,140.88 310.8,137.94 311.3,137.83 311.8,138.3 312.3,137.94 312.8,134.7 313.3,137.74 313.8,139.43 314.3,142.62 314.8,138.59 315.3,138.33 315.8,140.82 316.3,140.66 316.8,143.44 317.3,140.69 317.8,139.03 318.3,142.6 318.8,143.06 319.3,137.66 319.8,139.3 320.3,134.35 320.8,137.81 321.3,136.38 321.8,138.12 322.3,137.35 322.8,138.15 323.3,138.26 323.8,139.81 324.3,139.06 324.8,136.89 325.3,134.91 325.8,141.59 326.3,142.02 326.8,136.98 327.3,139.64 327.8,134.03 328.3,133.88 328.8,137.28 329.3,141.88 329.8,135.11 330.3,135.63 330.8,142.09 331.3,132.71 331.8,139.43 332.3,138.96 332.8,137.06 333.3,138.06 333.8,144.5 334.3,134.46 334.8,136.57 335.3,136.73 335.8,135.47 336.3,133.69 336.8,141.46 337.3,137.75 337.8,132.43 338.3,135.19 338.8,138.1 339.3,138.08 339.8,133.16 340.3,136.76 340.8,137.7"/>
<text transform="translate(149.06,29.8) rotate(-90)" text-anchor="middle" font-size="9.5" font-weight="normal" stroke="#000" stroke-width="0.4">343</text>
<text transform="translate(169.86,18.1) rotate(-90)" text-anchor="middle" font-size="9.5" font-weight="normal" stroke="#000" stroke-width="0.4">381</text>
<text transform="translate(62.66,94) rotate(-90)" text-anchor="middle" font-size="9.5" font-weight="normal" stroke="#000" stroke-width="0.4">155</text>
<text transform="translate(98.06,102.8) rotate(-90)" text-anchor="middle" font-size="9.5" font-weight="normal" stroke="#000" stroke-width="0.4">222</text>
<text transform="translate(228.86,25.9) rotate(-90)" text-anchor="middle" font-size="9.5" font-weight="normal" stroke="#000" stroke-width="0.4">455-475</text>
<text x="279.6" y="45.7" text-anchor="middle" font-size="15" font-weight="normal" stroke="#000" stroke-width="0.35">i</text>
<text x="279.3" y="128.1" text-anchor="middle" font-size="15" font-weight="normal" stroke="#000" stroke-width="0.35">ii</text>
<text x="322.1" y="21.5" text-anchor="start" font-size="18.5" font-weight="bold">a</text>
<polyline fill="none" stroke="#333" stroke-width="0.7" stroke-linejoin="round" points="366.4,156.88 366.9,154.45 367.4,156.03 367.9,155.5 368.4,155.55 368.9,155.66 369.4,154.68 369.9,155.59 370.41,155.2 370.91,157.35 371.41,155.64 371.91,155.23 372.41,155.15 372.91,154.79 373.41,154.4 373.91,154.52 374.41,154.69 374.91,153.96 375.41,154.1 375.91,152.9 376.41,152.25 376.91,152.05 377.41,150.27 377.92,148.06 378.42,145.92 378.92,143.01 379.42,138.92 379.92,130.9 380.42,120.08 380.92,103.88 381.42,80.46 381.92,59.09 382.42,57.67 382.92,77.88 383.42,101.29 383.92,118.92 384.42,128.95 384.92,138.01 385.42,142.07 385.93,145.13 386.43,148.49 386.93,150.49 387.43,151.26 387.93,151.97 388.43,153.35 388.93,153.96 389.43,155.24 389.93,155.34 390.43,155.41 390.93,156.19 391.43,155.75 391.93,155.59 392.43,156.57 392.93,156.73 393.44,156.46 393.94,156.28 394.44,156.93 394.94,155.59 395.44,157.36 395.94,157.34 396.44,156.28 396.94,157.25 397.44,156.76 397.94,157.73 398.44,156.3 398.94,156.94 399.44,157.84 399.94,158.12 400.44,156.4 400.95,157.31 401.45,157.79 401.95,157.32 402.45,158.49 402.95,156.98 403.45,157.77 403.95,156.98 404.45,158.25 404.95,157.44 405.45,157.2 405.95,156.42 406.45,158.15 406.95,157.57 407.45,157.47 407.95,157.56 408.46,157 408.96,156.32 409.46,156.03 409.96,155.79 410.46,156.61 410.96,154.73 411.46,154.69 411.96,154.2 412.46,153.65 412.96,152.71 413.46,150.22 413.96,147.72 414.46,145.14 414.96,140.11 415.46,130.03 415.96,111.06 416.47,74.18 416.97,22.11 417.47,24.87 417.97,77.6 418.47,112.22 418.97,130.44 419.47,139.74 419.97,145.43 420.47,148.58 420.97,151.93 421.47,152.88 421.97,153.93 422.47,152.85 422.97,154.32 423.47,154.62 423.98,155.56 424.48,154.36 424.98,156.4 425.48,156.54 425.98,155.45 426.48,155.77 426.98,156 427.48,156.53 427.98,155.93 428.48,155.04 428.98,152.97 429.48,151.95 429.98,151.41 430.48,152 430.98,153.06 431.49,154.73 431.99,155.18 432.49,156.43 432.99,156.66 433.49,157.89 433.99,157.47 434.49,156.99 434.99,156.93 435.49,157.44 435.99,156.83 436.49,156.72 436.99,157.49 437.49,158.56 437.99,157.13 438.49,156.97 439,156.65 439.5,156.58 440,157.58 440.5,157.76 441,157.32 441.5,157.5 442,157.39 442.5,157.41 443,156.53 443.5,157.1 444,157.41 444.5,156.94 445,157.11 445.5,156.93 446,157.2 446.5,157.83 447.01,157.16 447.51,157.3 448.01,157.82 448.51,157.74 449.01,158.3 449.51,156.28 450.01,157.86 450.51,157.15 451.01,157.48 451.51,157.86 452.01,157.99 452.51,157.97 453.01,157.5 453.51,158.25 454.01,157.21 454.52,157.26 455.02,157.74 455.52,156.99 456.02,158.41 456.52,157.78 457.02,158.37 457.52,157.17 458.02,156.95 458.52,157.22 459.02,157.5 459.52,156.77 460.02,157.25 460.52,157.02 461.02,157.86 461.52,156.62 462.03,157.5 462.53,156.58 463.03,156.38 463.53,156.49 464.03,156.2 464.53,156.89 465.03,157.34 465.53,156.85 466.03,157.06 466.53,157.58 467.03,156.82 467.53,156.76 468.03,156.48 468.53,155.74 469.03,156.98 469.54,155.61 470.04,156.86 470.54,156.48 471.04,157.06 471.54,156.4 472.04,155.97 472.54,156.57 473.04,156.05 473.54,156.23 474.04,156.32 474.54,156.2 475.04,156.14 475.54,155.77 476.04,156.08 476.54,154.95 477.04,155.64 477.55,154.62 478.05,154.44 478.55,153.48 479.05,152.84 479.55,153.42 480.05,154.2 480.55,154.64 481.05,155.83 481.55,155.57 482.05,154.93 482.55,155.71 483.05,155.74 483.55,155.86 484.05,155.12 484.55,156.08 485.06,156.12 485.56,155.09 486.06,155.32 486.56,155.61 487.06,155.32 487.56,156.53 488.06,155.69 488.56,155.01 489.06,155.11 489.56,155.47 490.06,156.7 490.56,155.36 491.06,155.5 491.56,155.68 492.06,155.36 492.57,156.57 493.07,155.04 493.57,155.7 494.07,155.36 494.57,155.58 495.07,154.51 495.57,155.69 496.07,153.84 496.57,152.16 497.07,149.47 497.57,147.37 498.07,146.76 498.57,148.09 499.07,150.54 499.57,153.08 500.08,154.36 500.58,154.68 501.08,155.32 501.58,155.22 502.08,154.83 502.58,155.24 503.08,155.52 503.58,154.93 504.08,154.59 504.58,155.14 505.08,155.75 505.58,154.6 506.08,154.63 506.58,154.58 507.08,155.28 507.58,153.63 508.09,154.78 508.59,155.19 509.09,154.1 509.59,155.3 510.09,154.77 510.59,154.18 511.09,154.56 511.59,153.62 512.09,154.12 512.59,155.37 513.09,153.89 513.59,155.32 514.09,154.26 514.59,154.78 515.09,154.22 515.6,152.93 516.1,153.72 516.6,154.01 517.1,153.15 517.6,152.86 518.1,153.54 518.6,152.72 519.1,151.84 519.6,151.99 520.1,152.37 520.6,151.15 521.1,151.34 521.6,151.06 522.1,149.62 522.6,148.35 523.11,147.6 523.61,147.65 524.11,147.54 524.61,146.7 525.11,146.41 525.61,145.55 526.11,145.74 526.61,145.25 527.11,145.38 527.61,145.04 528.11,145.19 528.61,146.18 529.11,146.34 529.61,146.98 530.11,148.45 530.62,148.65 531.12,150.88 531.62,150.43 532.12,150.16 532.62,151.44 533.12,151.68 533.62,151.54 534.12,152.84 534.62,152.13 535.12,151.16 535.62,153.41 536.12,152.8 536.62,154.04 537.12,152.99 537.62,152.6 538.12,153.71 538.63,151.76 539.13,151.5 539.63,150.67 540.13,147.83 540.63,144.67 541.13,140.63 541.63,135.66 542.13,128.77 542.63,122.16 543.13,114.75 543.63,107.98 544.13,101.49 544.63,97.14 545.13,95.2 545.63,95.52 546.14,98.44 546.64,103.37 547.14,110 547.64,116.82 548.14,124.27 548.64,130.19 549.14,136.68 549.64,142.57 550.14,145.3 550.64,147.99 551.14,149.6 551.64,151.75 552.14,152.3 552.64,152.03 553.14,153.26 553.65,153.18 554.15,153.5 554.65,152.78 555.15,154.05 555.65,153.34 556.15,153.05 556.65,152.82 557.15,152.95 557.65,153.53 558.15,152.92 558.65,153.62 559.15,153.35 559.65,153.74 560.15,153.45 560.65,152.97 561.16,151.98 561.66,153.16 562.16,153.43 562.66,153.1 563.16,153.32 563.66,152.77 564.16,152.83 564.66,152.53 565.16,153.77 565.66,153.13 566.16,152.79 566.66,152.35 567.16,152.98 567.66,153.84 568.16,153.32 568.66,152.7 569.17,153.85 569.67,153.86 570.17,153.62 570.67,153.53 571.17,153.73 571.67,153.41 572.17,153.54 572.67,152.71 573.17,153.94 573.67,153.26 574.17,154.23 574.67,152.06 575.17,153.53 575.67,153.69 576.17,152.99 576.68,153.42 577.18,153.58 577.68,153.5 578.18,152.91 578.68,153.12 579.18,153.75 579.68,153.89 580.18,153.27 580.68,153.26 581.18,153.34 581.68,153.79 582.18,152.68 582.68,152.54 583.18,153.32 583.68,152.67 584.19,152.95 584.69,153.31 585.19,153.53 585.69,152.71 586.19,153.71 586.69,152.35 587.19,153.58 587.69,152.42 588.19,152.55 588.69,153.55 589.19,152.96 589.69,152.73 590.19,152.89 590.69,153.35 591.19,153.04 591.7,153.03 592.2,153.58 592.7,152.61 593.2,152.71 593.7,152.66 594.2,153.53 594.7,153.41 595.2,153.54 595.7,152.81 596.2,152.72 596.7,153.23 597.2,152.54 597.7,153.17 598.2,153.08 598.7,152.3 599.2,152.6 599.71,152.55 600.21,153.51 600.71,153.94 601.21,152.48 601.71,152.52 602.21,151.27 602.71,152.57 603.21,152.43 603.71,151.83 604.21,152.79 604.71,151.51 605.21,152.21 605.71,152.37 606.21,151.6 606.71,152.7 607.22,152.78 607.72,151.45 608.22,151.41 608.72,152.46 609.22,152.09 609.72,151.44 610.22,151.9 610.72,151.97 611.22,151.92 611.72,152.42 612.22,152.15 612.72,152.86 613.22,152.63 613.72,152.23 614.22,152.41 614.73,152.52 615.23,152.16 615.73,151.11 616.23,152.19 616.73,151.75 617.23,152.54 617.73,151.7 618.23,151.91 618.73,151.78 619.23,152.47 619.73,151.64 620.23,151.38 620.73,151.66 621.23,151.23 621.73,151.53 622.24,151.41 622.74,151.53 623.24,152.38 623.74,151.12 624.24,151.32 624.74,151.17 625.24,151.61 625.74,150.59 626.24,150.83 626.74,151.15 627.24,151.44 627.74,151.09 628.24,150.82 628.74,150.6 629.24,151.31 629.74,151.78 630.25,151.17 630.75,151.09 631.25,151.22 631.75,150.48 632.25,150.81 632.75,150.83 633.25,151.13 633.75,150.95 634.25,150.32 634.75,151.56 635.25,151.86 635.75,150.82 636.25,151.17 636.75,151.09 637.25,151.36 637.76,150.15 638.26,151.8 638.76,150.69 639.26,151.61 639.76,150.97 640.26,150.72 640.76,150.85 641.26,151.4 641.76,150.45 642.26,150.71 642.76,150.65 643.26,149.99 643.76,151.59 644.26,151.2 644.76,150.88 645.27,151.51 645.77,150.37 646.27,150.84 646.77,151.8 647.27,151.4 647.77,149.68 648.27,149.09 648.77,150.31 649.27,151.43 649.77,150.6 650.27,150.74 650.77,151.17 651.27,150.37 651.77,150.96 652.27,151.26 652.78,151.08 653.28,151.04 653.78,150.51 654.28,151.1 654.78,150.59 655.28,151.51 655.78,152.18 656.28,150.42 656.78,149.65 657.28,150.58 657.78,151 658.28,151.36 658.78,151.37 659.28,150.37 659.78,150.36 660.28,151.46 660.79,150.2 661.29,151.36 661.79,150.65 662.29,151.18 662.79,151.14 663.29,151.17 663.79,151.19 664.29,150.23 664.79,150.91 665.29,150.75 665.79,150.91 666.29,151.4 666.79,150.59 667.29,150.35 667.79,150.34 668.3,150.56 668.8,151.12 669.3,150.28 669.8,151.33 670.3,150.86 670.8,150.59 671.3,149.99 671.8,150.83"/>
<text transform="translate(384.76,36.8) rotate(-90)" text-anchor="middle" font-size="9.5" font-weight="normal" stroke="#000" stroke-width="0.4">155</text>
<text transform="translate(432.66,26.6) rotate(-90)" text-anchor="middle" font-size="9.5" font-weight="normal" stroke="#000" stroke-width="0.4">222</text>
<text transform="translate(433.66,136.5) rotate(-90)" text-anchor="middle" font-size="9.5" font-weight="normal" stroke="#000" stroke-width="0.4">245</text>
<text transform="translate(484.06,139.8) rotate(-90)" text-anchor="middle" font-size="9.5" font-weight="normal" stroke="#000" stroke-width="0.4">343</text>
<text transform="translate(503.96,130.6) rotate(-90)" text-anchor="middle" font-size="9.5" font-weight="normal" stroke="#000" stroke-width="0.4">381</text>
<text transform="translate(530.96,130.3) rotate(-90)" text-anchor="middle" font-size="9.5" font-weight="normal" stroke="#000" stroke-width="0.4">437</text>
<text transform="translate(548.86,79.8) rotate(-90)" text-anchor="middle" font-size="9.5" font-weight="normal" stroke="#000" stroke-width="0.4">470</text>
<text x="652.3" y="25.3" text-anchor="start" font-size="18.5" font-weight="bold">b</text>
<polyline fill="none" stroke="#333" stroke-width="0.7" stroke-linejoin="round" points="33.2,333.32 33.7,336.36 34.2,348.93 34.7,341.59 35.2,325.19 35.7,336.34 36.2,331.71 36.7,336.82 37.2,324.22 37.7,336.87 38.2,336.85 38.7,346.73 39.2,338.42 39.7,340.28 40.2,326.75 40.7,353.47 41.21,324.8 41.71,346.42 42.21,336.9 42.71,333.54 43.21,335.2 43.71,334.59 44.21,341.44 44.71,337.45 45.21,347.9 45.71,323.8 46.21,334.56 46.71,324.93 47.21,329.01 47.71,302.03 48.21,296.71 48.71,280.64 49.21,260.1 49.71,253.39 50.21,251.75 50.71,262.99 51.21,280.71 51.71,292.52 52.21,308.7 52.71,323.43 53.21,337 53.71,342.24 54.21,333.84 54.71,335.86 55.21,335.44 55.71,337.69 56.21,340.83 56.72,342.28 57.22,358.31 57.72,341.06 58.22,343.17 58.72,348.84 59.22,339.39 59.72,343.92 60.22,347.03 60.72,352.8 61.22,338.6 61.72,357.85 62.22,346.22 62.72,350.32 63.22,355.5 63.72,354.63 64.22,357.86 64.72,352.09 65.22,351.18 65.72,353.97 66.22,345.33 66.72,361.46 67.22,348.2 67.72,345.47 68.22,369.36 68.72,354.68 69.22,348.04 69.72,369.93 70.22,355.32 70.72,365.73 71.22,353.16 71.72,357.89 72.23,348.28 72.73,346.96 73.23,353.71 73.73,360.22 74.23,366.58 74.73,378.2 75.23,354.21 75.73,368.72 76.23,357.65 76.73,361.03 77.23,351.95 77.73,352.19 78.23,357.3 78.73,354.57 79.23,362.97 79.73,357.94 80.23,370.82 80.73,361.45 81.23,357.29 81.73,355.52 82.23,339.28 82.73,319.17 83.23,297.65 83.73,273.91 84.23,254.61 84.73,237.66 85.23,230.44 85.73,235.41 86.23,247.66 86.73,271.01 87.23,287.24 87.74,320.86 88.24,332.32 88.74,345.58 89.24,356.61 89.74,357.48 90.24,358.39 90.74,369.66 91.24,362.77 91.74,355.84 92.24,365.49 92.74,350.6 93.24,374.23 93.74,361.55 94.24,363.17 94.74,378.75 95.24,378.11 95.74,363.96 96.24,367.62 96.74,370.98 97.24,375.22 97.74,362.63 98.24,364.6 98.74,372.32 99.24,365.74 99.74,369.23 100.24,368.24 100.74,355.96 101.24,357.82 101.74,345.28 102.24,361.88 102.74,373.01 103.25,355.8 103.75,372.14 104.25,370.43 104.75,362.98 105.25,363.25 105.75,363.81 106.25,357.14 106.75,361.12 107.25,362.71 107.75,367.25 108.25,368.44 108.75,357.63 109.25,368.55 109.75,357.25 110.25,361.45 110.75,365.15 111.25,362.34 111.75,361.54 112.25,364.25 112.75,358.43 113.25,357.66 113.75,360.74 114.25,368.83 114.75,361.32 115.25,375.3 115.75,363.41 116.25,341.03 116.75,358.72 117.25,373.39 117.75,361.72 118.25,358.55 118.76,355.44 119.26,370.77 119.76,368.46 120.26,366.09 120.76,364.32 121.26,371.35 121.76,366.95 122.26,352.54 122.76,366.47 123.26,362.22 123.76,360.2 124.26,366.25 124.76,361.05 125.26,340.26 125.76,371.64 126.26,367.94 126.76,359.76 127.26,357.95 127.76,362.09 128.26,351.45 128.76,362.53 129.26,358.71 129.76,357.79 130.26,353.74 130.76,355.4 131.26,367.83 131.76,369.37 132.26,362.89 132.76,357.85 133.26,350.82 133.76,360.79 134.27,365.84 134.77,342.06 135.27,360.38 135.77,335.8 136.27,347.38 136.77,351.25 137.27,338.37 137.77,337.16 138.27,348.94 138.77,353.63 139.27,344.02 139.77,356.62 140.27,341.61 140.77,359.2 141.27,347.62 141.77,348.28 142.27,350.8 142.77,348.59 143.27,359.1 143.77,361.38 144.27,349.58 144.77,344.17 145.27,336.05 145.77,335.94 146.27,334.81 146.77,326.1 147.27,317.09 147.77,309.62 148.27,307.12 148.77,307.54 149.27,314.59 149.78,331.22 150.28,340.07 150.78,339.04 151.28,354.74 151.78,343.68 152.28,347.55 152.78,337.04 153.28,355.84 153.78,349.78 154.28,357.23 154.78,354.61 155.28,350.24 155.78,350.61 156.28,357.76 156.78,348.16 157.28,348.15 157.78,349.61 158.28,354.67 158.78,355.41 159.28,362.29 159.78,348.23 160.28,357.56 160.78,344.06 161.28,352.79 161.78,349.36 162.28,360.52 162.78,352.5 163.28,344.73 163.78,351.07 164.28,347.84 164.78,340.18 165.29,334.57 165.79,321.33 166.29,325.77 166.79,295.33 167.29,278.77 167.79,259.56 168.29,252.81 168.79,256.26 169.29,267.6 169.79,287.33 170.29,298.47 170.79,321.1 171.29,338.6 171.79,330.36 172.29,346.61 172.79,336.14 173.29,346.45 173.79,347.32 174.29,357.48 174.79,340.95 175.29,347.41 175.79,353.98 176.29,338.91 176.79,347.49 177.29,341.9 177.79,343.51 178.29,353.63 178.79,354.2 179.29,367.78 179.79,359.81 180.29,359.47 180.8,349.45 181.3,348.68 181.8,351.9 182.3,335.18 182.8,362.87 183.3,346.73 183.8,344.16 184.3,348.53 184.8,358.02 185.3,360.75 185.8,349.56 186.3,355.01 186.8,351.05 187.3,343.97 187.8,351.62 188.3,350.11 188.8,338.65 189.3,356.61 189.8,337.4 190.3,347.65 190.8,335.04 191.3,333.08 191.8,330.24 192.3,336.47 192.8,319.14 193.3,322.97 193.8,334.04 194.3,320.8 194.8,327.94 195.3,335.31 195.81,329.08 196.31,337.42 196.81,329.41 197.31,338.88 197.81,334.36 198.31,327.31 198.81,343.67 199.31,333.08 199.81,331.73 200.31,327.16 200.81,330.29 201.31,332.84 201.81,334.67 202.31,341.09 202.81,324.12 203.31,330.84 203.81,341.61 204.31,334.45 204.81,335.98 205.31,343.31 205.81,333.02 206.31,332.42 206.81,327.37 207.31,338.53 207.81,332 208.31,318.1 208.81,325.48 209.31,312.1 209.81,326.25 210.31,320.05 210.81,309.89 211.32,303.85 211.82,287.29 212.32,296.94 212.82,282.51 213.32,272.89 213.82,277.1 214.32,267.38 214.82,267.92 215.32,267.16 215.82,262.54 216.32,288.88 216.82,270.64 217.32,269.96 217.82,289.72 218.32,272.37 218.82,305.1 219.32,313.73 219.82,315.17 220.32,333.47 220.82,323.2 221.32,339.29 221.82,344.38 222.32,322.17 222.82,327.43 223.32,336.31 223.82,337.11 224.32,332.53 224.82,339.43 225.32,338.45 225.82,327.16 226.32,335.75 226.83,327.38 227.33,321.64 227.83,319.17 228.33,343.12 228.83,334.92 229.33,349.41 229.83,325.36 230.33,333.02 230.83,337.79 231.33,334.33 231.83,338.77 232.33,336.21 232.83,330.82 233.33,318.75 233.83,328.35 234.33,346.99 234.83,340.25 235.33,344.48 235.83,330.68 236.33,333.39 236.83,328.54 237.33,337.37 237.83,335.01 238.33,337.69 238.83,346.8 239.33,328.54 239.83,339.49 240.33,324.44 240.83,341.92 241.33,331.02 241.83,333.54 242.34,334.92 242.84,345.42 243.34,333.59 243.84,330.25 244.34,325.37 244.84,335.51 245.34,327.52 245.84,329.9 246.34,333.17 246.84,337.97 247.34,328.18 247.84,337.8 248.34,345.43 248.84,322.52 249.34,342.42 249.84,347.88 250.34,328.59 250.84,336.95 251.34,322.95 251.84,334.88 252.34,330.14 252.84,334.48 253.34,325.83 253.84,326.41 254.34,328.83 254.84,326.71 255.34,327.09 255.84,329.73 256.34,323.11 256.84,329.59 257.34,333.72 257.85,313.89 258.35,331.2 258.85,324.33 259.35,321.44 259.85,319.59 260.35,322.78 260.85,323.24 261.35,330.61 261.85,319.09 262.35,334.97 262.85,321.69 263.35,331.97 263.85,334.57 264.35,318.16 264.85,334.01 265.35,341.63 265.85,323.07 266.35,330.09 266.85,324.93 267.35,326.23 267.85,324.15 268.35,321.76 268.85,330.16 269.35,331.07 269.85,324.68 270.35,335.13 270.85,332.01 271.35,329.17 271.85,319.06 272.35,337.25 272.85,333.04 273.36,308.58 273.86,315.7 274.36,319.95 274.86,329.7 275.36,331.68 275.86,320.78 276.36,324.36 276.86,327.35 277.36,313.37 277.86,326.27 278.36,319.81 278.86,323.08 279.36,321.28 279.86,313.17 280.36,314.3 280.86,321.38 281.36,321.82 281.86,318.89 282.36,328 282.86,317.87 283.36,311.68 283.86,317.6 284.36,318.62 284.86,318.75 285.36,327.63 285.86,322.88 286.36,326.51 286.86,323.32 287.36,317.62 287.86,325.86 288.36,316.6 288.87,319.98 289.37,311.06 289.87,318.58 290.37,315.4 290.87,320.08 291.37,329.99 291.87,333.67 292.37,324 292.87,316.46 293.37,322.25 293.87,317.87 294.37,311.81 294.87,315.42 295.37,313.9 295.87,311.22 296.37,324.91 296.87,311.26 297.37,311.36 297.87,319.56 298.37,309.57 298.87,306.17 299.37,308.06 299.87,317.19 300.37,316.25 300.87,315.5 301.37,309.95 301.87,306.61 302.37,319.15 302.87,302.47 303.37,310.91 303.87,302.91 304.38,309.15 304.88,310.72 305.38,320.18 305.88,291.31 306.38,320.75 306.88,304.79 307.38,312.86 307.88,316.23 308.38,305.04 308.88,309.58 309.38,313.49 309.88,309.03 310.38,304.59 310.88,310.93 311.38,310.23 311.88,298.83 312.38,318.69 312.88,310.61 313.38,291.93 313.88,302.93 314.38,320.64 314.88,319.57 315.38,310.21 315.88,296.37 316.38,306.36 316.88,315.29 317.38,310.49 317.88,305.26 318.38,302.29 318.88,313.08 319.38,305.67 319.89,309.27 320.39,310.31 320.89,318.2 321.39,307.85 321.89,308.23 322.39,293.76 322.89,313.91 323.39,312.2 323.89,305.73 324.39,289.76 324.89,301.58 325.39,305.9 325.89,319.91 326.39,309.21 326.89,310.48 327.39,310.52 327.89,313.97 328.39,296.51 328.89,298.34 329.39,296.06 329.89,302.42 330.39,302.01 330.89,305.29 331.39,297.46 331.89,305.37 332.39,298.82 332.89,319.71 333.39,301.25 333.89,322.91 334.39,316.58 334.89,296.81 335.4,312 335.9,309.63 336.4,294.69 336.9,309.8 337.4,304.98 337.9,308.14 338.4,299.79 338.9,305.42 339.4,308.83 339.9,304.74 340.4,301.84 340.9,305.07 341.4,299.33 341.9,308.59 342.4,270 342.9,316.76"/>
<text transform="translate(52.06,234.7) rotate(-90)" text-anchor="middle" font-size="9.5" font-weight="normal" stroke="#000" stroke-width="0.4">155</text>
<text transform="translate(97.46,245.8) rotate(-90)" text-anchor="middle" font-size="9.5" font-weight="normal" stroke="#000" stroke-width="0.4">222</text>
<text transform="translate(149.56,290.7) rotate(-90)" text-anchor="middle" font-size="9.5" font-weight="normal" stroke="#000" stroke-width="0.4">343</text>
<text transform="translate(171.06,237.1) rotate(-90)" text-anchor="middle" font-size="9.5" font-weight="normal" stroke="#000" stroke-width="0.4">381</text>
<text transform="translate(204.06,279.5) rotate(-90)" text-anchor="middle" font-size="9.5" font-weight="normal" stroke="#000" stroke-width="0.4">455-473</text>
<text x="323.4" y="236.3" text-anchor="start" font-size="18.5" font-weight="bold">c</text>
<polyline fill="none" stroke="#333" stroke-width="0.7" stroke-linejoin="round" points="366.1,245.36 366.6,243.93 367.1,249.43 367.6,253.16 368.1,257.15 368.6,253.78 369.1,252 369.6,252.08 370.11,259.81 370.61,264.73 371.11,259.91 371.61,254.47 372.11,256.75 372.61,268.92 373.11,263.95 373.61,256.65 374.11,264.76 374.61,260.64 375.11,263.51 375.61,264.68 376.11,264.26 376.61,270.3 377.11,268.19 377.61,266.46 378.12,271.35 378.62,273.73 379.12,263.57 379.62,270.13 380.12,267.55 380.62,271.6 381.12,267.32 381.62,273.56 382.12,273.86 382.62,273.26 383.12,270.51 383.62,273.54 384.12,270.74 384.62,269.8 385.12,276.86 385.63,271.29 386.13,281.37 386.63,279.62 387.13,268.06 387.63,278.11 388.13,272.36 388.63,277.49 389.13,277.74 389.63,269.15 390.13,276.96 390.63,277.07 391.13,282.56 391.63,273.48 392.13,282 392.63,274.25 393.13,277.79 393.64,275.79 394.14,285.92 394.64,282.31 395.14,290.66 395.64,283.37 396.14,284.71 396.64,285.15 397.14,279.33 397.64,282.12 398.14,288.73 398.64,281.62 399.14,284.62 399.64,284.16 400.14,287.36 400.64,283.59 401.15,284.97 401.65,287.14 402.15,287 402.65,283.26 403.15,291.35 403.65,282.3 404.15,283.18 404.65,283.29 405.15,293.49 405.65,288.2 406.15,312.5 406.65,285.76 407.15,292.94 407.65,286.92 408.15,286.35 408.65,294.9 409.16,287.43 409.66,291.59 410.16,293.34 410.66,291.81 411.16,293.88 411.66,300.3 412.16,292.63 412.66,289.79 413.16,287.66 413.66,295.11 414.16,294.85 414.66,297.9 415.16,295.11 415.66,295.42 416.16,294.75 416.67,296 417.17,299.32 417.67,297.35 418.17,299.81 418.67,307.99 419.17,302.2 419.67,293.67 420.17,308.39 420.67,302.76 421.17,297.55 421.67,305.93 422.17,302.46 422.67,300.09 423.17,300.03 423.67,297.83 424.17,301.7 424.68,305.48 425.18,298.79 425.68,301.38 426.18,307.04 426.68,293.01 427.18,298.74 427.68,295.66 428.18,291.75 428.68,291.25 429.18,294.99 429.68,296.29 430.18,291.73 430.68,294.35 431.18,297.34 431.68,295.58 432.19,298.14 432.69,296.47 433.19,296.67 433.69,302.56 434.19,297.43 434.69,295.38 435.19,297.98 435.69,291.01 436.19,293.61 436.69,298.6 437.19,297.98 437.69,302.05 438.19,295.47 438.69,289.18 439.19,304.04 439.69,300.42 440.2,291.19 440.7,301.82 441.2,296.09 441.7,288.17 442.2,294.3 442.7,294 443.2,303.19 443.7,292.95 444.2,295.37 444.7,295.36 445.2,295 445.7,292.77 446.2,297.77 446.7,301.57 447.2,299.7 447.71,293.06 448.21,292.18 448.71,297.77 449.21,294.28 449.71,294.7 450.21,290.24 450.71,306.05 451.21,301.66 451.71,293.56 452.21,301.8 452.71,303.77 453.21,287.65 453.71,295.62 454.21,296.32 454.71,300.81 455.22,297.47 455.72,297 456.22,297.75 456.72,306.03 457.22,307.36 457.72,295.73 458.22,293.99 458.72,309.67 459.22,293.75 459.72,295.52 460.22,298.16 460.72,300.09 461.22,302.46 461.72,299.69 462.22,294.22 462.72,300.19 463.23,299.08 463.73,306.13 464.23,297.94 464.73,292.21 465.23,293.47 465.73,304.28 466.23,295.66 466.73,288.88 467.23,295.48 467.73,298 468.23,303.15 468.73,293.6 469.23,300.89 469.73,301.45 470.23,294.94 470.74,297.11 471.24,305.53 471.74,305.26 472.24,301.46 472.74,299.13 473.24,302.57 473.74,296.97 474.24,297.12 474.74,293.74 475.24,297.44 475.74,297 476.24,309.27 476.74,296.25 477.24,302.08 477.74,301.1 478.24,292.56 478.75,293.19 479.25,276.37 479.75,274.63 480.25,267.65 480.75,259.97 481.25,260.79 481.75,267.67 482.25,273.59 482.75,279.01 483.25,287.23 483.75,290.53 484.25,297.87 484.75,297.75 485.25,294.93 485.75,293.32 486.26,295.95 486.76,301.88 487.26,297.59 487.76,298.8 488.26,295.35 488.76,290.4 489.26,292.92 489.76,298.82 490.26,296.45 490.76,292.08 491.26,288.99 491.76,296.48 492.26,294.53 492.76,294.48 493.26,294.57 493.76,297.23 494.27,297.26 494.77,300.09 495.27,299.79 495.77,301.09 496.27,297.82 496.77,291.06 497.27,288.53 497.77,284.46 498.27,273.73 498.77,265.96 499.27,257.03 499.77,248.31 500.27,245.9 500.77,251.54 501.27,258.11 501.78,269.33 502.28,273.3 502.78,290.84 503.28,292.89 503.78,292.63 504.28,293.29 504.78,296.03 505.28,295.12 505.78,294.74 506.28,291.14 506.78,301.47 507.28,295.83 507.78,296.32 508.28,296.4 508.78,285.78 509.28,298.28 509.79,294.57 510.29,294.75 510.79,296.3 511.29,291.79 511.79,299.65 512.29,292.98 512.79,292.08 513.29,292.26 513.79,296.69 514.29,299.23 514.79,293.42 515.29,289.46 515.79,300.6 516.29,291.38 516.79,301.18 517.3,295.76 517.8,292.97 518.3,293.23 518.8,298 519.3,299.85 519.8,295.14 520.3,300.02 520.8,304.83 521.3,294.75 521.8,290.54 522.3,290.82 522.8,289.23 523.3,292.35 523.8,291.85 524.3,289.11 524.8,297.02 525.31,283.27 525.81,288.73 526.31,303.05 526.81,298.68 527.31,296.32 527.81,295.9 528.31,301.46 528.81,295.97 529.31,293.85 529.81,288.05 530.31,292.93 530.81,289.94 531.31,289.92 531.81,289.75 532.31,292.52 532.82,291.15 533.32,296.22 533.82,286.57 534.32,291.45 534.82,300.11 535.32,292.11 535.82,297.04 536.32,296.67 536.82,297.36 537.32,294.75 537.82,285.48 538.32,290.2 538.82,289.62 539.32,284.46 539.82,289.06 540.32,285.56 540.83,283.66 541.33,291.7 541.83,290.5 542.33,287.61 542.83,286.38 543.33,288.05 543.83,288.59 544.33,288.44 544.83,289.88 545.33,288.13 545.83,291.59 546.33,292.09 546.83,291.28 547.33,286.75 547.83,286.86 548.34,291.32 548.84,288.49 549.34,289.06 549.84,278.35 550.34,277.35 550.84,290.42 551.34,290.29 551.84,294.8 552.34,291.79 552.84,289.53 553.34,288.54 553.84,282.19 554.34,292.11 554.84,285.57 555.34,290.27 555.84,288.86 556.35,289.07 556.85,291.67 557.35,285.58 557.85,285.93 558.35,283.8 558.85,285.78 559.35,294.54 559.85,285.65 560.35,292.26 560.85,290.61 561.35,290.13 561.85,290.41 562.35,282.5 562.85,288.48 563.35,293.7 563.86,283.77 564.36,286.54 564.86,283.72 565.36,288.04 565.86,281.95 566.36,293.56 566.86,284.92 567.36,279.83 567.86,294.23 568.36,290.64 568.86,288.64 569.36,288.66 569.86,284.77 570.36,285.31 570.86,289.38 571.36,290.18 571.87,290.21 572.37,287.05 572.87,284.07 573.37,285.22 573.87,290.82 574.37,292.21 574.87,284.45 575.37,283.83 575.87,291.26 576.37,316 576.87,288.8 577.37,280.05 577.87,284.08 578.37,283.43 578.87,286.53 579.38,278.29 579.88,291.06 580.38,286.81 580.88,287.36 581.38,316 581.88,285.28 582.38,291.14 582.88,278.51 583.38,286.6 583.88,288.27 584.38,282.2 584.88,288.69 585.38,283.69 585.88,290.41 586.38,287.33 586.88,285.98 587.39,293.56 587.89,288.27 588.39,290.14 588.89,279.13 589.39,281.29 589.89,287.53 590.39,287.64 590.89,283.28 591.39,286.71 591.89,278.56 592.39,283.88 592.89,277.79 593.39,284.05 593.89,280.27 594.39,279.41 594.9,282.24 595.4,289.69 595.9,277.23 596.4,278.82 596.9,285.87 597.4,279.21 597.9,288.53 598.4,281.63 598.9,280.87 599.4,281.83 599.9,287.64 600.4,282.75 600.9,281.96 601.4,280.62 601.9,272.57 602.41,275.31 602.91,285.38 603.41,282.33 603.91,280.77 604.41,281.15 604.91,275.84 605.41,279.47 605.91,273.91 606.41,279.32 606.91,274.34 607.41,276.32 607.91,279.02 608.41,275.45 608.91,279.48 609.41,278.46 609.91,277.85 610.42,281.84 610.92,269.53 611.42,268.8 611.92,278.2 612.42,279.42 612.92,283.86 613.42,278.23 613.92,278.36 614.42,270.74 614.92,277.64 615.42,277.1 615.92,269.42 616.42,269.91 616.92,273.13 617.42,274.66 617.93,260.46 618.43,273.33 618.93,273.84 619.43,271.88 619.93,273.61 620.43,274.23 620.93,267.68 621.43,273.68 621.93,270.59 622.43,267.39 622.93,272.2 623.43,277.55 623.93,294 624.43,263.55 624.93,263.36 625.43,278.95 625.94,269.16 626.44,269.86 626.94,266.57 627.44,265.77 627.94,260.93 628.44,270.31 628.94,270.56 629.44,260.74 629.94,264.65 630.44,265.81 630.94,268.79 631.44,269.82 631.94,273.51 632.44,274.41 632.94,272.99 633.45,274.04 633.95,263.04 634.45,265.55 634.95,272.78 635.45,268.94 635.95,267.63 636.45,258.84 636.95,259.23 637.45,270.32 637.95,268.49 638.45,265.52 638.95,264.8 639.45,258.9 639.95,267.77 640.45,270.43 640.95,272.85 641.46,265.73 641.96,264.42 642.46,260.34 642.96,270.18 643.46,272.06 643.96,261.79 644.46,265.49 644.96,264.41 645.46,261.32 645.96,252.77 646.46,261.79 646.96,265.79 647.46,256.69 647.96,259.09 648.46,248.29 648.97,267.87 649.47,264.25 649.97,262.07 650.47,260.48 650.97,258.68 651.47,260.89 651.97,238 652.47,259.77 652.97,260.54 653.47,261.08 653.97,267.08 654.47,253.93 654.97,261.19 655.47,257.19 655.97,254.8 656.47,249.31 656.98,262.05 657.48,254.97 657.98,255.81 658.48,260.93 658.98,254.04 659.48,258.69 659.98,258.09 660.48,261.73 660.98,262.48 661.48,254.18 661.98,261.76 662.48,257.2 662.98,257.99 663.48,256.59 663.98,260.93 664.49,252.38 664.99,258.81 665.49,262.84 665.99,256.57 666.49,266.65 666.99,254.73 667.49,258.9 667.99,255.94 668.49,255.41 668.99,253.31 669.49,255.87 669.99,258.04 670.49,254.84 670.99,262.2 671.49,265.02 671.99,251.87 672.5,262.17 673,259.42 673.5,259.72 674,269.39 674.5,264 675,260.29 675.5,259.69 676,249.62"/>
<polyline fill="none" stroke="#333" stroke-width="0.7" stroke-linejoin="round" points="366.1,316.28 366.6,320.13 367.1,302.08 367.6,313.26 368.1,318.97 368.6,321.15 369.1,318.84 369.6,323.21 370.11,318.69 370.61,320.54 371.11,319.64 371.61,314.93 372.11,316.63 372.61,322.66 373.11,319.21 373.61,327.95 374.11,328.76 374.61,331.68 375.11,324.49 375.61,331.32 376.11,322.13 376.61,323.24 377.11,327.85 377.61,329.44 378.12,322.02 378.62,322.17 379.12,331.93 379.62,327.38 380.12,337.07 380.62,334.27 381.12,334.61 381.62,334.91 382.12,338.61 382.62,334.79 383.12,340.84 383.62,334.4 384.12,336.24 384.62,334.81 385.12,340.89 385.63,339 386.13,335.65 386.63,348.6 387.13,338.89 387.63,340.51 388.13,343.26 388.63,349.67 389.13,342 389.63,346.23 390.13,344.15 390.63,337.92 391.13,348.24 391.63,349.78 392.13,344.85 392.63,346.37 393.13,340.47 393.64,340.92 394.14,346.37 394.64,351.32 395.14,347.06 395.64,350.69 396.14,353.95 396.64,350.51 397.14,352.92 397.64,357.03 398.14,345.69 398.64,354.65 399.14,343.59 399.64,353.97 400.14,353.31 400.64,350.41 401.15,348.43 401.65,353.16 402.15,351.99 402.65,354.52 403.15,350.5 403.65,357.13 404.15,350.61 404.65,354.11 405.15,354.07 405.65,361.59 406.15,349.95 406.65,354.97 407.15,362.27 407.65,354.76 408.15,352.71 408.65,359.78 409.16,357.76 409.66,363.11 410.16,355.97 410.66,361.26 411.16,363.78 411.66,365.86 412.16,357.04 412.66,368.48 413.16,358.87 413.66,356.69 414.16,359.58 414.66,364.85 415.16,363.26 415.66,367.03 416.16,367.74 416.67,367.44 417.17,365.43 417.67,374.86 418.17,357.87 418.67,360.42 419.17,366.21 419.67,363.44 420.17,358.27 420.67,366.37 421.17,367.04 421.67,360.14 422.17,374.95 422.67,377.32 423.17,380 423.67,369.03 424.17,371.3 424.68,365.23 425.18,370.41 425.68,366.02 426.18,370.14 426.68,366.31 427.18,371.7 427.68,370.23 428.18,371.45 428.68,358.55 429.18,357.05 429.68,366.12 430.18,361.5 430.68,365.72 431.18,365.3 431.68,364.78 432.19,367.98 432.69,366.41 433.19,366.05 433.69,360.13 434.19,371.47 434.69,364.55 435.19,368.8 435.69,365.42 436.19,369.5 436.69,364.67 437.19,364.94 437.69,364.6 438.19,360.93 438.69,361.52 439.19,363.36 439.69,363.49 440.2,359.74 440.7,374.21 441.2,359.75 441.7,362.67 442.2,374.6 442.7,361.14 443.2,367.32 443.7,366.86 444.2,363.1 444.7,357.81 445.2,357.27 445.7,363.97 446.2,365.82 446.7,354.66 447.2,364.66 447.71,361.17 448.21,367.88 448.71,364.76 449.21,360.53 449.71,362.16 450.21,364.21 450.71,369.85 451.21,377.22 451.71,365.59 452.21,364.56 452.71,367.09 453.21,364.25 453.71,367.25 454.21,366.32 454.71,364.78 455.22,361.46 455.72,365.72 456.22,369.07 456.72,365.6 457.22,371.96 457.72,369.61 458.22,365.08 458.72,373.3 459.22,361.02 459.72,371.09 460.22,374.18 460.72,365.16 461.22,365.94 461.72,370.58 462.22,372.84 462.72,368.68 463.23,367.94 463.73,371 464.23,368.28 464.73,362.04 465.23,366.58 465.73,367.45 466.23,361.13 466.73,369.48 467.23,364.65 467.73,371.2 468.23,361.64 468.73,364.26 469.23,362.01 469.73,374.01 470.23,374.01 470.74,374.8 471.24,374.79 471.74,372.26 472.24,372.17 472.74,360.89 473.24,369.63 473.74,365.99 474.24,366.71 474.74,362.73 475.24,373.69 475.74,368.62 476.24,361.4 476.74,369.77 477.24,366.78 477.74,361.93 478.24,363.49 478.75,359.51 479.25,352 479.75,351.1 480.25,351.05 480.75,346.85 481.25,344.51 481.75,343.44 482.25,345.7 482.75,350.02 483.25,355.75 483.75,355.68 484.25,357.72 484.75,368.1 485.25,365.36 485.75,364.22 486.26,363 486.76,363.46 487.26,373.18 487.76,370.5 488.26,364.45 488.76,360.78 489.26,373.42 489.76,372.92 490.26,371.29 490.76,369.67 491.26,357.79 491.76,360.3 492.26,368.27 492.76,364.52 493.26,366.79 493.76,363.33 494.27,362.67 494.77,367.78 495.27,363.44 495.77,364.76 496.27,365.12 496.77,363.74 497.27,365.2 497.77,362.47 498.27,349.23 498.77,347.54 499.27,341.29 499.77,338.13 500.27,332.14 500.77,331.61 501.27,332.18 501.78,335.24 502.28,337.79 502.78,344.37 503.28,347.23 503.78,356.18 504.28,361.93 504.78,354.76 505.28,358.86 505.78,362.42 506.28,361.23 506.78,370.11 507.28,363.07 507.78,364.76 508.28,358.8 508.78,370.24 509.28,364.2 509.79,366.77 510.29,363.77 510.79,354.22 511.29,356.5 511.79,357.86 512.29,365.5 512.79,361.26 513.29,365.35 513.79,364.75 514.29,364.6 514.79,367.52 515.29,364.34 515.79,356.45 516.29,360.64 516.79,370.79 517.3,358.97 517.8,369.54 518.3,370.81 518.8,361.09 519.3,365.17 519.8,357.62 520.3,367.06 520.8,360.35 521.3,358.06 521.8,362.05 522.3,361.79 522.8,361.25 523.3,364.65 523.8,363.08 524.3,360.95 524.8,367.96 525.31,374.35 525.81,364.16 526.31,360.84 526.81,359.6 527.31,366.47 527.81,362.81 528.31,364 528.81,355.29 529.31,359.02 529.81,358.87 530.31,367.88 530.81,362.44 531.31,352.6 531.81,365.16 532.31,367.59 532.82,367.83 533.32,349.4 533.82,361.41 534.32,363.3 534.82,361.28 535.32,356.33 535.82,348.11 536.32,352.53 536.82,351.48 537.32,353.92 537.82,352.91 538.32,348.04 538.82,352.04 539.32,343.44 539.82,345.1 540.32,348.34 540.83,351.72 541.33,348.87 541.83,356.82 542.33,354.59 542.83,350.02 543.33,355.78 543.83,352.71 544.33,353.38 544.83,352.19 545.33,365.08 545.83,363.45 546.33,352.92 546.83,364.91 547.33,364.38 547.83,358.7 548.34,362.48 548.84,369.98 549.34,361.44 549.84,361.96 550.34,364.91 550.84,355.47 551.34,354.38 551.84,353.66 552.34,359.34 552.84,363.36 553.34,355.76 553.84,353.45 554.34,360.23 554.84,357.68 555.34,361.82 555.84,358.57 556.35,358.26 556.85,358.6 557.35,359.03 557.85,354.61 558.35,353.83 558.85,365.49 559.35,371.9 559.85,363.27 560.35,351.26 560.85,358.37 561.35,363.29 561.85,351.01 562.35,355.82 562.85,356.06 563.35,353.76 563.86,354 564.36,361.92 564.86,355.46 565.36,356.33 565.86,364.66 566.36,353.43 566.86,348.7 567.36,359.71 567.86,365.52 568.36,357.6 568.86,357.91 569.36,350.89 569.86,352.3 570.36,362.62 570.86,361.62 571.36,358.6 571.87,353.15 572.37,350.65 572.87,351.16 573.37,350.49 573.87,358.12 574.37,351.92 574.87,353.07 575.37,358.1 575.87,357.89 576.37,355.06 576.87,356.8 577.37,354.63 577.87,346.09 578.37,354.02 578.87,352.41 579.38,352.59 579.88,355.07 580.38,351.46 580.88,359.11 581.38,352.95 581.88,354.31 582.38,354.92 582.88,352.63 583.38,356.08 583.88,356.45 584.38,355.8 584.88,349.86 585.38,348.89 585.88,350.07 586.38,352.6 586.88,344.33 587.39,348.69 587.89,347.27 588.39,349.25 588.89,348.08 589.39,355.54 589.89,353.86 590.39,355.99 590.89,347.46 591.39,348.28 591.89,350.29 592.39,358.7 592.89,358.72 593.39,348.67 593.89,354.01 594.39,360.52 594.9,346.66 595.4,350.22 595.9,356.61 596.4,354.03 596.9,346.49 597.4,357.33 597.9,354.92 598.4,353.58 598.9,345.1 599.4,349.69 599.9,356.05 600.4,352.38 600.9,353.63 601.4,348.92 601.9,356.56 602.41,348.87 602.91,353.84 603.41,351.16 603.91,345.49 604.41,356.03 604.91,344.04 605.41,346.22 605.91,349.95 606.41,343.15 606.91,341.33 607.41,348.56 607.91,347.13 608.41,347.71 608.91,350.99 609.41,358.53 609.91,346.83 610.42,359.17 610.92,349.51 611.42,347.96 611.92,336.56 612.42,341.55 612.92,349.23 613.42,350.41 613.92,344.29 614.42,349.12 614.92,351.61 615.42,345.17 615.92,340.5 616.42,343.18 616.92,346.04 617.42,325 617.93,350.41 618.43,342.87 618.93,346.88 619.43,345.45 619.93,346.57 620.43,351.04 620.93,351.74 621.43,343.89 621.93,343.17 622.43,342.66 622.93,343.21 623.43,343.55 623.93,344.46 624.43,342.85 624.93,340.23 625.43,339.66 625.94,344.83 626.44,355.02 626.94,346.7 627.44,346.94 627.94,345.49 628.44,343.12 628.94,352.34 629.44,342.15 629.94,339.13 630.44,337.84 630.94,343.85 631.44,338.56 631.94,338.94 632.44,338.81 632.94,336.72 633.45,342.99 633.95,334.83 634.45,351.85 634.95,329.83 635.45,335.61 635.95,341.78 636.45,343.17 636.95,339.72 637.45,342.3 637.95,341.68 638.45,341.33 638.95,343.19 639.45,341.56 639.95,339.93 640.45,339.61 640.95,343.91 641.46,339.14 641.96,342.26 642.46,346.5 642.96,341.18 643.46,344.59 643.96,337.34 644.46,340.25 644.96,341.13 645.46,339.77 645.96,340.7 646.46,344.56 646.96,336.94 647.46,335.25 647.96,339.42 648.46,331.52 648.97,337.62 649.47,342.69 649.97,337.31 650.47,339.58 650.97,338.72 651.47,342.11 651.97,338.94 652.47,337.48 652.97,322.01 653.47,334.01 653.97,339.2 654.47,335.33 654.97,332.54 655.47,339.54 655.97,331.63 656.47,333.81 656.98,338.08 657.48,332.72 657.98,335.53 658.48,334.54 658.98,329.25 659.48,332 659.98,332.53 660.48,331.14 660.98,317 661.48,333.67 661.98,330.98 662.48,327.72 662.98,332.33 663.48,339.4 663.98,332.39 664.49,336.98 664.99,335.66 665.49,331.45 665.99,329.58 666.49,336.04 666.99,326.41 667.49,336.18 667.99,328.56 668.49,337.42 668.99,332.03 669.49,333.35 669.99,338.29 670.49,329.41 670.99,333.97 671.49,332.39 671.99,335.97 672.5,336.89 673,335.02 673.5,334.68 674,332.04 674.5,336.41 675,332.78 675.5,334.36 676,334.61"/>
<text transform="translate(481.06,239.5) rotate(-90)" text-anchor="middle" font-size="9.5" font-weight="normal" stroke="#000" stroke-width="0.4">343</text>
<text transform="translate(502.76,230.7) rotate(-90)" text-anchor="middle" font-size="9.5" font-weight="normal" stroke="#000" stroke-width="0.4">381</text>
<text transform="translate(544.26,323.2) rotate(-90)" text-anchor="middle" font-size="9.5" font-weight="normal" stroke="#000" stroke-width="0.4">456-471</text>
<text x="626.2" y="257.9" text-anchor="middle" font-size="15" font-weight="normal" stroke="#000" stroke-width="0.35">i</text>
<text x="628" y="329.7" text-anchor="middle" font-size="15" font-weight="normal" stroke="#000" stroke-width="0.35">ii</text>
<text x="657" y="238" text-anchor="start" font-size="18.5" font-weight="bold">d</text>
<polyline fill="none" stroke="#333" stroke-width="0.7" stroke-linejoin="round" points="33.8,507.99 34.3,508.67 34.8,507.32 35.3,505.86 35.8,506.86 36.3,505.59 36.8,508.02 37.3,510.99 37.8,506.69 38.3,506.38 38.8,508.95 39.3,508.62 39.8,508.01 40.3,505.57 40.8,507.66 41.3,509.33 41.8,504.55 42.3,506.6 42.8,503.21 43.3,504.62 43.8,503.31 44.3,507.04 44.8,504.61 45.3,508.19 45.8,507.9 46.3,507.08 46.8,501.62 47.3,506.22 47.8,507.34 48.3,507.7 48.8,503.85 49.31,506.28 49.81,505.1 50.31,505.47 50.81,509.82 51.31,505.44 51.81,507.23 52.31,509.35 52.81,505.9 53.31,506.98 53.81,507.48 54.31,507.35 54.81,504.33 55.31,507.34 55.81,510.32 56.31,503.52 56.81,509.11 57.31,507.37 57.81,505.57 58.31,511.72 58.81,508.81 59.31,504.21 59.81,507.17 60.31,508.35 60.81,506.59 61.31,508.65 61.81,506.92 62.31,508.66 62.81,510.49 63.31,505.58 63.81,507.66 64.31,506.13 64.81,507.53 65.31,504.49 65.81,505.94 66.31,506.86 66.81,509.44 67.31,510.04 67.81,504.31 68.31,505.57 68.81,508.96 69.31,502.82 69.81,506.42 70.31,507.3 70.81,510.49 71.31,509.19 71.81,506.84 72.31,506.77 72.81,507.07 73.31,511.24 73.81,506.71 74.31,507.03 74.81,508.58 75.31,507.51 75.81,507.35 76.31,505.24 76.81,507.84 77.31,506.86 77.81,510.64 78.31,509.47 78.81,507.91 79.31,509.64 79.81,507.45 80.32,510.87 80.82,508.56 81.32,510.1 81.82,505.89 82.32,509.87 82.82,505.29 83.32,504.64 83.82,508.85 84.32,507.62 84.82,510.27 85.32,515.28 85.82,508.27 86.32,508.92 86.82,511.02 87.32,511.85 87.82,510.45 88.32,510.55 88.82,512.83 89.32,512.57 89.82,509.11 90.32,511.22 90.82,511.21 91.32,508.4 91.82,511.19 92.32,508.31 92.82,512.3 93.32,510.21 93.82,509.7 94.32,507.83 94.82,508.66 95.32,504 95.82,505.75 96.32,508.96 96.82,502.88 97.32,509.55 97.82,503.22 98.32,508.79 98.82,504.78 99.32,508.29 99.82,506.51 100.32,502.34 100.82,508.57 101.32,508.74 101.82,504.95 102.32,504.19 102.82,504.18 103.32,502.01 103.82,506.57 104.32,502.47 104.82,503.34 105.32,501.34 105.82,501.45 106.32,499.66 106.82,505.3 107.32,501.87 107.82,504.43 108.32,502.16 108.82,500.45 109.32,501.25 109.82,500.65 110.32,501.92 110.82,500.97 111.33,501.09 111.83,498.52 112.33,499.8 112.83,505.49 113.33,500.01 113.83,499.06 114.33,502.25 114.83,504.69 115.33,497.96 115.83,500.81 116.33,499.77 116.83,497.08 117.33,502.85 117.83,501.02 118.33,501.19 118.83,499.21 119.33,501.97 119.83,499.6 120.33,500.47 120.83,498.16 121.33,497.85 121.83,503.75 122.33,499.4 122.83,501.21 123.33,500.39 123.83,499.39 124.33,499.17 124.83,501.78 125.33,499.55 125.83,499.84 126.33,500.19 126.83,502.83 127.33,501.62 127.83,500.87 128.33,498.54 128.83,496.47 129.33,501.75 129.83,501.63 130.33,498.89 130.83,500.33 131.33,500.73 131.83,500.69 132.33,500.74 132.83,497.37 133.33,501.81 133.83,495.21 134.33,499.98 134.83,498.96 135.33,499.69 135.83,501.88 136.33,500.8 136.83,494.51 137.33,493.08 137.83,498.77 138.33,494.34 138.83,496.52 139.33,498.35 139.83,492.57 140.33,491.58 140.83,497.2 141.33,496.8 141.83,496.22 142.34,496.98 142.84,494.98 143.34,493.55 143.84,496.79 144.34,495.01 144.84,493.53 145.34,498.53 145.84,497.01 146.34,497.61 146.84,493.47 147.34,492.99 147.84,490.82 148.34,490.03 148.84,492.27 149.34,490.6 149.84,494.58 150.34,496.12 150.84,501.46 151.34,494.5 151.84,500.46 152.34,498.53 152.84,498.88 153.34,495.62 153.84,498.03 154.34,500.93 154.84,499.1 155.34,499.58 155.84,498.81 156.34,502.27 156.84,499.62 157.34,494.64 157.84,498.25 158.34,495.25 158.84,492.19 159.34,498.47 159.84,502.74 160.34,499.67 160.84,496.75 161.34,497.22 161.84,501.98 162.34,499.63 162.84,499.31 163.34,499 163.84,499.14 164.34,500.85 164.84,499.85 165.34,497.86 165.84,492.6 166.34,490.41 166.84,483.05 167.34,479.64 167.84,478.53 168.34,483.15 168.84,489.16 169.34,491.48 169.84,500.45 170.34,501.13 170.84,496.94 171.34,499.74 171.84,498.75 172.34,491.7 172.84,498.31 173.35,497.5 173.85,497.77 174.35,494.98 174.85,496.79 175.35,496.96 175.85,500.11 176.35,498.08 176.85,497.26 177.35,500.8 177.85,495.9 178.35,496.25 178.85,492.89 179.35,500.75 179.85,499.3 180.35,499.15 180.85,498.54 181.35,497.2 181.85,497.4 182.35,496.28 182.85,496.35 183.35,496.91 183.85,500.27 184.35,498 184.85,496.53 185.35,495.25 185.85,495.04 186.35,500.19 186.85,497.55 187.35,496.45 187.85,495.41 188.35,493.55 188.85,495.9 189.35,498.01 189.85,494.98 190.35,495.28 190.85,495.21 191.35,495.9 191.85,491.84 192.35,494.92 192.85,493.38 193.35,497.35 193.85,493.4 194.35,496.45 194.85,498.56 195.35,494.18 195.85,493.41 196.35,495.15 196.85,494.6 197.35,492.18 197.85,495.46 198.35,498.97 198.85,493.55 199.35,493.55 199.85,491.46 200.35,494.51 200.85,490.72 201.35,490.9 201.85,496.31 202.35,491.05 202.85,495.51 203.35,496.36 203.85,493.21 204.36,493.69 204.86,496.72 205.36,491.19 205.86,489.62 206.36,487.17 206.86,489.72 207.36,492.32 207.86,490.32 208.36,485.04 208.86,484.33 209.36,484.15 209.86,484.92 210.36,482.85 210.86,482.9 211.36,481.96 211.86,479.18 212.36,478.07 212.86,476.51 213.36,473.14 213.86,471.11 214.36,470 214.86,461.64 215.36,453.89 215.86,442.46 216.36,440.02 216.86,429.11 217.36,428.64 217.86,436.66 218.36,442.4 218.86,447.83 219.36,451.4 219.86,460.77 220.36,465.16 220.86,472.3 221.36,479.3 221.86,477.08 222.36,476.79 222.86,477.5 223.36,481.42 223.86,482.22 224.36,480.84 224.86,484.55 225.36,482.36 225.86,488.38 226.36,488.92 226.86,489.56 227.36,486.46 227.86,489.26 228.36,488.21 228.86,488.04 229.36,488.56 229.86,486.7 230.36,486.61 230.86,492.03 231.36,489.91 231.86,491.02 232.36,493.01 232.86,486.78 233.36,489.13 233.86,491.49 234.36,492.12 234.86,490.44 235.37,493.84 235.87,492.03 236.37,488.81 236.87,489.57 237.37,493.71 237.87,493.01 238.37,487.58 238.87,495.24 239.37,493.58 239.87,495.4 240.37,491.45 240.87,491.73 241.37,489.86 241.87,498.49 242.37,492.23 242.87,496.41 243.37,491.27 243.87,493.23 244.37,489.02 244.87,492.09 245.37,495.34 245.87,490.19 246.37,495.68 246.87,494.03 247.37,490.87 247.87,492.19 248.37,492.35 248.87,493.37 249.37,492.3 249.87,491.68 250.37,492.95 250.87,491.33 251.37,490.77 251.87,493.73 252.37,495.96 252.87,490.39 253.37,494.02 253.87,492.55 254.37,491.84 254.87,496.06 255.37,492.76 255.87,497.37 256.37,491.96 256.87,494.59 257.37,493.06 257.87,491.73 258.37,494.77 258.87,492.94 259.37,494.61 259.87,492.99 260.37,490.47 260.87,492.67 261.37,492.93 261.87,494.95 262.37,490.5 262.87,492.42 263.37,488.4 263.87,493.84 264.37,489.7 264.87,487.91 265.37,491.89 265.87,494.51 266.38,488.27 266.88,489.19 267.38,489.89 267.88,488.89 268.38,492.31 268.88,489.45 269.38,489.55 269.88,492.49 270.38,489.27 270.88,491.94 271.38,488.57 271.88,487.9 272.38,486.35 272.88,494.88 273.38,489.68 273.88,490.9 274.38,490.16 274.88,490.51 275.38,490.15 275.88,494.38 276.38,487.41 276.88,486.1 277.38,487.27 277.88,486.42 278.38,491.17 278.88,491.24 279.38,487.04 279.88,486.01 280.38,488.4 280.88,492.45 281.38,482.6 281.88,490.38 282.38,486.61 282.88,491.53 283.38,486.56 283.88,488.38 284.38,485.5 284.88,486.71 285.38,492.2 285.88,490.85 286.38,487.97 286.88,486.85 287.38,484.44 287.88,487.91 288.38,488.73 288.88,488.58 289.38,488.53 289.88,486.1 290.38,488.54 290.88,488.58 291.38,491.65 291.88,492.97 292.38,488.27 292.88,486.77 293.38,488.38 293.88,487.09 294.38,486.75 294.88,488.31 295.38,485.99 295.88,489.81 296.38,488.13 296.88,488.92 297.39,487.89 297.89,486.59 298.39,486.05 298.89,487.68 299.39,486.92 299.89,488.72 300.39,488.14 300.89,484.94 301.39,488.25 301.89,484.93 302.39,486.6 302.89,487.33 303.39,483.14 303.89,488.17 304.39,488.27 304.89,487.51 305.39,486.85 305.89,486.93 306.39,485.48 306.89,487.09 307.39,486.39 307.89,487.86 308.39,484.8 308.89,488.12 309.39,487.86 309.89,487.16 310.39,486.42 310.89,488.7 311.39,483.48 311.89,488.4 312.39,487.86 312.89,487.91 313.39,488.1 313.89,485.64 314.39,486.52 314.89,488.58 315.39,488.06 315.89,487.49 316.39,483.44 316.89,488.19 317.39,489.62 317.89,489.21 318.39,487.36 318.89,483.14 319.39,488.93 319.89,486.35 320.39,480.75 320.89,487.49 321.39,483.09 321.89,483.51 322.39,485.01 322.89,489.43 323.39,485.55 323.89,487.01 324.39,490.42 324.89,490.02 325.39,486.02 325.89,485.65 326.39,483.24 326.89,484.52 327.39,487.09 327.89,486.98 328.4,486.28 328.9,488.3 329.4,484.15 329.9,485.81 330.4,487.63 330.9,487.27 331.4,488.39 331.9,486.8 332.4,485.13 332.9,486.68 333.4,483.48 333.9,481.97 334.4,487.14 334.9,485.63 335.4,486.47 335.9,481.77 336.4,484.86 336.9,484.29 337.4,483.66 337.9,480.4 338.4,484.86 338.9,487.72 339.4,486.49 339.9,484.18 340.4,485.53 340.9,487.32 341.4,479.09 341.9,485.23 342.4,486.77 342.9,487.07 343.4,489.45"/>
<polyline fill="none" stroke="#333" stroke-width="0.7" stroke-linejoin="round" points="33.8,544.94 34.3,545.99 34.8,546.11 35.3,548.65 35.8,544.25 36.3,549.39 36.8,547.78 37.3,552.27 37.8,552.6 38.3,553.8 38.8,552.52 39.3,550.79 39.8,553.1 40.3,554.78 40.8,549.93 41.3,553.06 41.8,551.71 42.3,555.35 42.8,550.22 43.3,551.65 43.8,553.38 44.3,553.33 44.8,549.1 45.3,553.95 45.8,553.03 46.3,552.94 46.8,553.31 47.3,554.29 47.8,549.57 48.3,556.47 48.8,550.08 49.31,545.96 49.81,546.02 50.31,544.3 50.81,542.91 51.31,545.92 51.81,550.03 52.31,550.19 52.81,549.08 53.31,552.72 53.81,558.89 54.31,554.62 54.81,553.24 55.31,553.84 55.81,557.17 56.31,557.33 56.81,559.64 57.31,560.12 57.81,555.86 58.31,557.88 58.81,555.82 59.31,558.84 59.81,556.21 60.31,556.31 60.81,564.27 61.31,559.61 61.81,561.25 62.31,565.89 62.81,562.01 63.31,560.13 63.81,560.74 64.31,559.09 64.81,563.59 65.31,560.48 65.81,565.58 66.31,560.88 66.81,561.07 67.31,561.13 67.81,563.79 68.31,562.98 68.81,565.96 69.31,561.68 69.81,563.86 70.31,567.92 70.81,563.05 71.31,565.07 71.81,567.64 72.31,565.14 72.81,562.25 73.31,558.8 73.81,569.08 74.31,564.38 74.81,566.2 75.31,562.03 75.81,567.27 76.31,564.12 76.81,562.9 77.31,560.56 77.81,563.41 78.31,561.3 78.81,561.79 79.31,558.4 79.81,560.88 80.32,562.16 80.82,558.62 81.32,561.42 81.82,562.27 82.32,559.67 82.82,558.15 83.32,556.98 83.82,556.94 84.32,555.27 84.82,556.23 85.32,557.63 85.82,560.25 86.32,562.56 86.82,563.18 87.32,570.96 87.82,568.84 88.32,566.55 88.82,568.34 89.32,571.13 89.82,572.29 90.32,567.66 90.82,572.36 91.32,567.4 91.82,568.66 92.32,572.41 92.82,574.29 93.32,570.03 93.82,569.42 94.32,573 94.82,567.45 95.32,570.51 95.82,570.31 96.32,572.03 96.82,570.28 97.32,568.87 97.82,570.83 98.32,566.68 98.82,571.11 99.32,567.55 99.82,566.9 100.32,568.08 100.82,568.95 101.32,570.41 101.82,568.16 102.32,570.28 102.82,570.74 103.32,568.13 103.82,565.99 104.32,570.34 104.82,568.74 105.32,563.07 105.82,565.61 106.32,568.15 106.82,564.53 107.32,566.15 107.82,563.82 108.32,568.82 108.82,568.52 109.32,568.44 109.82,571.48 110.32,567.35 110.82,567.57 111.33,573.03 111.83,565.35 112.33,570.16 112.83,565.46 113.33,569.15 113.83,573.61 114.33,569.38 114.83,567.02 115.33,574.45 115.83,567.69 116.33,568.55 116.83,569.81 117.33,566.04 117.83,571.85 118.33,573.09 118.83,571.16 119.33,570.23 119.83,569.19 120.33,571.67 120.83,562.33 121.33,569.46 121.83,570.42 122.33,565.26 122.83,570.96 123.33,569.74 123.83,570.03 124.33,570.41 124.83,571.59 125.33,571.39 125.83,567.97 126.33,570.19 126.83,570.11 127.33,570.7 127.83,569.3 128.33,573.01 128.83,573.87 129.33,574.44 129.83,575.41 130.33,574.37 130.83,569.65 131.33,569.13 131.83,569.48 132.33,571.55 132.83,569.78 133.33,572.24 133.83,573.62 134.33,568.6 134.83,571.73 135.33,568.37 135.83,566.17 136.33,566.01 136.83,568.06 137.33,564.22 137.83,569.65 138.33,571.85 138.83,565.45 139.33,567.23 139.83,571.45 140.33,568.5 140.83,567.99 141.33,566.76 141.83,569.59 142.34,567.82 142.84,564.36 143.34,561.06 143.84,560.32 144.34,567.95 144.84,565.63 145.34,569.47 145.84,567.12 146.34,562.81 146.84,566.29 147.34,568.23 147.84,563.19 148.34,563.95 148.84,569.06 149.34,561.21 149.84,563.01 150.34,568.27 150.84,566.55 151.34,563.7 151.84,563.24 152.34,567.98 152.84,570.01 153.34,569.37 153.84,568.68 154.34,571.48 154.84,568.99 155.34,566.59 155.84,573.52 156.34,565.87 156.84,568.41 157.34,568.52 157.84,572 158.34,566.85 158.84,567.96 159.34,564.43 159.84,569.33 160.34,569.56 160.84,570.01 161.34,566.3 161.84,568.98 162.34,566.34 162.84,567.26 163.34,568.16 163.84,571.33 164.34,567.19 164.84,568.24 165.34,564.88 165.84,562.96 166.34,558.33 166.84,553.37 167.34,549.56 167.84,548.7 168.34,553.86 168.84,557.68 169.34,564.38 169.84,565.2 170.34,566.8 170.84,566.9 171.34,570.41 171.84,568.4 172.34,570.28 172.84,566.9 173.35,567.16 173.85,571.44 174.35,563.81 174.85,565.57 175.35,567.18 175.85,571.81 176.35,566.13 176.85,569.37 177.35,571.18 177.85,566.92 178.35,567.05 178.85,571.32 179.35,566.12 179.85,564.93 180.35,569.28 180.85,566.13 181.35,570.33 181.85,568.54 182.35,563.19 182.85,567.89 183.35,567.24 183.85,565.65 184.35,569.74 184.85,563.03 185.35,564.21 185.85,565.94 186.35,568.91 186.85,563.46 187.35,565.54 187.85,565.33 188.35,563.46 188.85,566.04 189.35,564.24 189.85,565.83 190.35,567.51 190.85,564.7 191.35,564.77 191.85,564.47 192.35,564.76 192.85,563.07 193.35,563.94 193.85,566.93 194.35,564.59 194.85,574.18 195.35,564.68 195.85,567.6 196.35,563.02 196.85,565.86 197.35,565.18 197.85,566.24 198.35,569.47 198.85,565.97 199.35,563.54 199.85,566.57 200.35,564.04 200.85,565.96 201.35,569.87 201.85,568.36 202.35,568.62 202.85,567.33 203.35,566.02 203.85,562.49 204.36,564.88 204.86,564.7 205.36,567.4 205.86,568.07 206.36,566.85 206.86,563.92 207.36,569.75 207.86,568.69 208.36,564.97 208.86,565.76 209.36,566.57 209.86,565.24 210.36,564.6 210.86,565.58 211.36,564.26 211.86,564.24 212.36,560.26 212.86,559.76 213.36,564.72 213.86,558.35 214.36,559.85 214.86,557.75 215.36,555.54 215.86,553.15 216.36,552.82 216.86,552.9 217.36,554.04 217.86,555 218.36,557.96 218.86,559.04 219.36,559.19 219.86,562.86 220.36,564.04 220.86,565.17 221.36,564.27 221.86,563.89 222.36,567.07 222.86,566.57 223.36,570.08 223.86,566.5 224.36,563.37 224.86,567.67 225.36,570.82 225.86,566.33 226.36,565.39 226.86,564.52 227.36,570.23 227.86,565.55 228.36,565.46 228.86,566.75 229.36,562.85 229.86,565.5 230.36,563.25 230.86,565.85 231.36,567.34 231.86,568.35 232.36,565.28 232.86,568.15 233.36,565.38 233.86,562.48 234.36,567.63 234.86,565.85 235.37,566.59 235.87,560.29 236.37,566.86 236.87,566.96 237.37,566.97 237.87,568.82 238.37,565.58 238.87,571.41 239.37,568.13 239.87,567.72 240.37,560.67 240.87,561.9 241.37,569.96 241.87,567.4 242.37,568.63 242.87,565.54 243.37,566.11 243.87,567.71 244.37,564.47 244.87,569.35 245.37,563.65 245.87,566.71 246.37,565.52 246.87,566.94 247.37,568.98 247.87,563.43 248.37,567.05 248.87,566.24 249.37,567.88 249.87,565.82 250.37,564.69 250.87,566.95 251.37,568.84 251.87,567.6 252.37,566.02 252.87,566.6 253.37,561.97 253.87,564.25 254.37,564.88 254.87,564.17 255.37,563.74 255.87,565.21 256.37,566.2 256.87,569.74 257.37,563.54 257.87,563 258.37,567.39 258.87,565.38 259.37,562.9 259.87,568.49 260.37,564.39 260.87,564.06 261.37,563.34 261.87,562.57 262.37,564.9 262.87,562.38 263.37,570.28 263.87,565.28 264.37,563.87 264.87,562.59 265.37,564.93 265.87,566.6 266.38,564.78 266.88,561.5 267.38,563.55 267.88,560.04 268.38,567.27 268.88,565.45 269.38,564.26 269.88,564.39 270.38,562.31 270.88,563.22 271.38,565.72 271.88,563.31 272.38,564.71 272.88,563.78 273.38,563.73 273.88,563.86 274.38,565.47 274.88,562.29 275.38,564.49 275.88,560.99 276.38,561.41 276.88,561.02 277.38,564.61 277.88,561.84 278.38,565.33 278.88,560.03 279.38,563.23 279.88,559.57 280.38,564.81 280.88,560.5 281.38,563.11 281.88,560.37 282.38,560.11 282.88,562.39 283.38,557.75 283.88,558.9 284.38,565.12 284.88,559.61 285.38,563.35 285.88,559.37 286.38,557.48 286.88,560.27 287.38,563.17 287.88,561.02 288.38,560.32 288.88,562.92 289.38,559.08 289.88,562.46 290.38,561.43 290.88,558.23 291.38,562.7 291.88,563.09 292.38,559.84 292.88,560.63 293.38,559.65 293.88,557.63 294.38,562.04 294.88,557.79 295.38,561.31 295.88,558.79 296.38,557.58 296.88,561.35 297.39,560.41 297.89,564.12 298.39,559.6 298.89,560.06 299.39,559.93 299.89,559.03 300.39,562.63 300.89,563.02 301.39,561.05 301.89,557.06 302.39,560.42 302.89,559.45 303.39,558.22 303.89,555.6 304.39,561.23 304.89,561.92 305.39,559.8 305.89,560.08 306.39,563.07 306.89,563.43 307.39,559.38 307.89,552.16 308.39,560.43 308.89,559.07 309.39,560.26 309.89,557.41 310.39,556.22 310.89,559.69 311.39,557.76 311.89,558.64 312.39,559.32 312.89,558.53 313.39,554.88 313.89,559.52 314.39,556.99 314.89,557.58 315.39,559 315.89,554.57 316.39,557.28 316.89,553.62 317.39,556.57 317.89,558.65 318.39,557.51 318.89,557.18 319.39,559.16 319.89,556.86 320.39,554.07 320.89,560.25 321.39,558.24 321.89,559.57 322.39,556.77 322.89,556.7 323.39,555.97 323.89,553.21 324.39,556.59 324.89,556.26 325.39,561.33 325.89,553.21 326.39,557.7 326.89,557.2 327.39,557.42 327.89,557.23 328.4,558.08 328.9,559.55 329.4,553.71 329.9,559.49 330.4,556.88 330.9,555.23 331.4,553.18 331.9,553.25 332.4,557.31 332.9,554.87 333.4,554.85 333.9,556.32 334.4,557.52 334.9,556.37 335.4,554.83 335.9,556.02 336.4,557.07 336.9,555.04 337.4,559.59 337.9,560.45 338.4,560.51 338.9,556.76 339.4,556.72 339.9,555.39 340.4,560.73 340.9,556.43 341.4,562.6 341.9,552.8 342.4,558.07 342.9,558.72 343.4,557.57"/>
<text transform="translate(150.66,473.6) rotate(-90)" text-anchor="middle" font-size="9.5" font-weight="normal" stroke="#000" stroke-width="0.4">343</text>
<text transform="translate(170.36,465) rotate(-90)" text-anchor="middle" font-size="9.5" font-weight="normal" stroke="#000" stroke-width="0.4">381</text>
<text transform="translate(53.06,529.7) rotate(-90)" text-anchor="middle" font-size="9.5" font-weight="normal" stroke="#000" stroke-width="0.4">155</text>
<text transform="translate(86.26,542) rotate(-90)" text-anchor="middle" font-size="9.5" font-weight="normal" stroke="#000" stroke-width="0.4">221</text>
<text transform="translate(233.36,455.3) rotate(-90)" text-anchor="middle" font-size="9.5" font-weight="normal" stroke="#000" stroke-width="0.4">455-475</text>
<text x="302.5" y="479.5" text-anchor="middle" font-size="15" font-weight="normal" stroke="#000" stroke-width="0.35">i</text>
<text x="304.6" y="549" text-anchor="middle" font-size="15" font-weight="normal" stroke="#000" stroke-width="0.35">ii</text>
<text x="324.5" y="442" text-anchor="start" font-size="18.5" font-weight="bold">e</text>
<polyline fill="none" stroke="#333" stroke-width="0.7" stroke-linejoin="round" points="366.3,531.24 366.8,539.12 367.3,525.41 367.8,542.58 368.3,546.37 368.8,534.88 369.3,541.57 369.8,540.47 370.3,535.95 370.8,532.73 371.3,524.37 371.8,549.83 372.3,539.35 372.8,522 373.3,546.51 373.8,543.22 374.3,537.11 374.8,552.88 375.3,539.7 375.8,555.66 376.3,541.97 376.8,546.99 377.3,535.2 377.8,564.29 378.3,547.16 378.8,545.77 379.3,555.28 379.8,543.53 380.3,556.44 380.8,542.96 381.3,556.29 381.81,545.37 382.31,540.3 382.81,550.16 383.31,544.18 383.81,559.17 384.31,555.47 384.81,559.24 385.31,556.37 385.81,553.3 386.31,556.3 386.81,564.01 387.31,555.14 387.81,551.09 388.31,549.77 388.81,555.45 389.31,551.77 389.81,571.26 390.31,549.02 390.81,549.93 391.31,555.81 391.81,563.02 392.31,556.48 392.81,551.62 393.31,552.92 393.81,556.46 394.31,566.37 394.81,552.25 395.31,558.95 395.81,555.32 396.31,562.39 396.81,563.12 397.31,549.66 397.81,578.1 398.31,562.19 398.81,557.26 399.31,554.63 399.81,559.48 400.31,561.81 400.81,566.14 401.31,562.01 401.81,565.72 402.31,550.56 402.81,557.04 403.31,555.37 403.81,564.16 404.31,566.51 404.81,552.59 405.31,562.31 405.81,569.06 406.31,570.64 406.81,555.95 407.31,568.55 407.81,567.25 408.31,561.92 408.81,579.87 409.31,557.62 409.81,564.14 410.31,569.86 410.81,568.65 411.31,565.96 411.81,577.67 412.31,578.52 412.82,574.96 413.32,575.97 413.82,538.5 414.32,560.78 414.82,585.71 415.32,563 415.82,586.72 416.32,569.79 416.82,572.77 417.32,570.18 417.82,578.8 418.32,568.4 418.82,585.99 419.32,576.75 419.82,574.45 420.32,569.34 420.82,578 421.32,573.63 421.82,587.04 422.32,579.43 422.82,560.58 423.32,582.69 423.82,553.53 424.32,581.69 424.82,556.01 425.32,569.3 425.82,574.71 426.32,568.15 426.82,559.61 427.32,576.16 427.82,553.52 428.32,555.32 428.82,575.63 429.32,558.6 429.82,566.2 430.32,570.11 430.82,563.33 431.32,566.09 431.82,564.89 432.32,565.53 432.82,572.61 433.32,570.7 433.82,566.17 434.32,570.48 434.82,559.72 435.32,558.04 435.82,556.25 436.32,569.29 436.82,575.4 437.32,564.06 437.82,548.87 438.32,559.6 438.82,566.71 439.32,565.41 439.82,563.86 440.32,570.37 440.82,569.87 441.32,553.19 441.82,566.15 442.32,557.49 442.82,564.57 443.33,571.93 443.83,576.19 444.33,567.84 444.83,558.95 445.33,560.02 445.83,566.46 446.33,555.25 446.83,561.95 447.33,566.83 447.83,569.08 448.33,560.11 448.83,564.95 449.33,572.18 449.83,564.37 450.33,549.49 450.83,563.6 451.33,563.82 451.83,558.83 452.33,562.19 452.83,550.99 453.33,570.85 453.83,564.66 454.33,557.44 454.83,563.01 455.33,562.11 455.83,554.67 456.33,541.3 456.83,539.84 457.33,575.4 457.83,552.23 458.33,558.14 458.83,564.35 459.33,557.36 459.83,568.61 460.33,552.77 460.83,563.72 461.33,544.14 461.83,564.55 462.33,564.21 462.83,561.72 463.33,561.09 463.83,560.71 464.33,564.94 464.83,565.52 465.33,551.39 465.83,565.93 466.33,551.09 466.83,559.1 467.33,555.9 467.83,561.14 468.33,555.04 468.83,560.3 469.33,553.68 469.83,550.02 470.33,564.5 470.83,560.36 471.33,559.43 471.83,562.18 472.33,546.89 472.83,560.87 473.33,545.92 473.84,555.96 474.34,551.35 474.84,554.16 475.34,556.78 475.84,551.32 476.34,543.9 476.84,556.88 477.34,558.47 477.84,554.51 478.34,555.6 478.84,534.8 479.34,541.76 479.84,534.59 480.34,523.08 480.84,523.01 481.34,521.24 481.84,521.68 482.34,528.05 482.84,538.31 483.34,547.98 483.84,554.03 484.34,544.76 484.84,546.27 485.34,551.14 485.84,554.94 486.34,551.45 486.84,554.58 487.34,561.5 487.84,561.62 488.34,557.92 488.84,548.19 489.34,552.32 489.84,559.41 490.34,561.02 490.84,561.78 491.34,545.57 491.84,549.3 492.34,543.19 492.84,529.85 493.34,542.76 493.84,537.12 494.34,559.56 494.84,551.73 495.34,541.55 495.84,542.6 496.34,536.14 496.84,527.23 497.34,498.02 497.84,473.69 498.34,452.17 498.84,449.45 499.34,463.78 499.84,487.76 500.34,509.69 500.84,535.5 501.34,537.96 501.84,556.64 502.34,546.87 502.84,544.77 503.34,563.9 503.84,547.25 504.34,551.59 504.85,542.73 505.35,545.53 505.85,548.3 506.35,543.66 506.85,560 507.35,545.86 507.85,542.09 508.35,559.6 508.85,556.75 509.35,534.63 509.85,547.64 510.35,559.26 510.85,546.47 511.35,550.21 511.85,550.64 512.35,535.99 512.85,546.19 513.35,558.49 513.85,563.63 514.35,552.6 514.85,552.54 515.35,557.54 515.85,554.86 516.35,557.52 516.85,547.52 517.35,554.26 517.85,557.94 518.35,558.76 518.85,543.11 519.35,560.7 519.85,555.68 520.35,556.12 520.85,542.14 521.35,555.55 521.85,543.82 522.35,537.05 522.85,556.41 523.35,555.55 523.85,555.76 524.35,556.39 524.85,554.85 525.35,562.67 525.85,560.31 526.35,566.05 526.85,572.42 527.35,559.32 527.85,559.29 528.35,567.11 528.85,546.54 529.35,550.31 529.85,554.32 530.35,540.78 530.85,559.03 531.35,563.27 531.85,542.2 532.35,545.2 532.85,557.51 533.35,560.56 533.85,538.21 534.35,554.06 534.85,548.28 535.36,535.95 535.86,546.12 536.36,544.77 536.86,549.44 537.36,548.67 537.86,546.11 538.36,546.88 538.86,546.45 539.36,551.1 539.86,554.16 540.36,553.86 540.86,540.01 541.36,540.48 541.86,541.11 542.36,556.2 542.86,549.02 543.36,539.63 543.86,536.51 544.36,537.36 544.86,544.7 545.36,536.14 545.86,543.93 546.36,553.62 546.86,541.6 547.36,549.49 547.86,531.81 548.36,545.44 548.86,544.86 549.36,535.86 549.86,552.64 550.36,542.38 550.86,537.27 551.36,540.07 551.86,517.3 552.36,531.95 552.86,543.02 553.36,534.77 553.86,543.39 554.36,537.75 554.86,540.99 555.36,547 555.86,541.64 556.36,545.27 556.86,546.25 557.36,544.01 557.86,542.59 558.36,541.14 558.86,545.4 559.36,549.46 559.86,554.03 560.36,553.34 560.86,533.04 561.36,542.38 561.86,543.71 562.36,548.94 562.86,547.73 563.36,529.33 563.86,541.75 564.36,527.08 564.86,536.05 565.36,532.63 565.86,534.84 566.37,550.82 566.87,535.14 567.37,535.36 567.87,539.83 568.37,546.68 568.87,526.24 569.37,550.54 569.87,532.92 570.37,531.13 570.87,539.25 571.37,543.15 571.87,557.97 572.37,544.59 572.87,533.55 573.37,536.29 573.87,530.67 574.37,542.4 574.87,543.55 575.37,534.93 575.87,545.58 576.37,524.78 576.87,533.54 577.37,530.17 577.87,532.51 578.37,524.73 578.87,543.63 579.37,529.53 579.87,535.44 580.37,544.99 580.87,548.01 581.37,544.78 581.87,519.63 582.37,533.67 582.87,533.22 583.37,530.67 583.87,529.83 584.37,531.43 584.87,539.7 585.37,531.89 585.87,525.3 586.37,523.49 586.87,536.03 587.37,522.23 587.87,539.93 588.37,531.04 588.87,530.87 589.37,536.17 589.87,531.74 590.37,539.51 590.87,524.75 591.37,520.76 591.87,548.44 592.37,535.15 592.87,514.84 593.37,546.2 593.87,523.21 594.37,548.62 594.87,546.78 595.37,539.8 595.87,533.25 596.37,526.71 596.88,540.05 597.38,529.99 597.88,540.83 598.38,530.67 598.88,521.03 599.38,527.33 599.88,532.81 600.38,528.59 600.88,533.1 601.38,525.12 601.88,543.68 602.38,527.79 602.88,535.34 603.38,519.04 603.88,537.34 604.38,542.49 604.88,535.39 605.38,529.02 605.88,523.84 606.38,535 606.88,534.67 607.38,520.65 607.88,530.23 608.38,533.96 608.88,524.08 609.38,534.15 609.88,527.55 610.38,540.09 610.88,519.88 611.38,532.96 611.88,529.83 612.38,514.99 612.88,521.81 613.38,522.2 613.88,535.22 614.38,525.57 614.88,528 615.38,529.01 615.88,546.78 616.38,525.86 616.88,541.72 617.38,525.95 617.88,515.55 618.38,521.01 618.88,517.71 619.38,523.99 619.88,515.8 620.38,519.69 620.88,540.34 621.38,527.89 621.88,528.44 622.38,539.21 622.88,513.53 623.38,529.7 623.88,521.92 624.38,525 624.88,520.07 625.38,525.81 625.88,533.87 626.38,533.49 626.88,526.3 627.39,530.37 627.89,515.39 628.39,502.5 628.89,531.53 629.39,538.66 629.89,526.99 630.39,518.87 630.89,523.6 631.39,532.07 631.89,514.35 632.39,523.32 632.89,527.14 633.39,514.91 633.89,537.7 634.39,528.15 634.89,534.23 635.39,513.92 635.89,523.29 636.39,532.81 636.89,524.7 637.39,530.51 637.89,507.47 638.39,520.27 638.89,506.09 639.39,516.93 639.89,522.58 640.39,519.47 640.89,510.88 641.39,522.17 641.89,524.63 642.39,518.96 642.89,525.48 643.39,527.75 643.89,528.33 644.39,516.57 644.89,522.68 645.39,514.06 645.89,517.95 646.39,526.3 646.89,517.49 647.39,514.79 647.89,513.59 648.39,521.6 648.89,529.5 649.39,524.29 649.89,515.69 650.39,522.96 650.89,523.75 651.39,527.24 651.89,511.23 652.39,520.56 652.89,512.65 653.39,511.31 653.89,524.21 654.39,518.71 654.89,514.96 655.39,524.09 655.89,515.04 656.39,507.04 656.89,519.89 657.39,506.13 657.89,506.26 658.4,509.28 658.9,510.88 659.4,518.33 659.9,508.84 660.4,497.81 660.9,506.69 661.4,512.85 661.9,509.37 662.4,509.07 662.9,500.72 663.4,506.65 663.9,513.61 664.4,513.61 664.9,503 665.4,503.66 665.9,501.74 666.4,515.57 666.9,503.1 667.4,506.46 667.9,502.29 668.4,501.53 668.9,507.11 669.4,514.52 669.9,503.59 670.4,516.26 670.9,459.8 671.4,512.72 671.9,525.47 672.4,523.79 672.9,509.15 673.4,507.59"/>
<text transform="translate(482.06,505.8) rotate(-90)" text-anchor="middle" font-size="9.5" font-weight="normal" stroke="#000" stroke-width="0.4">343</text>
<text transform="translate(515.36,452.2) rotate(-90)" text-anchor="middle" font-size="9.5" font-weight="normal" stroke="#000" stroke-width="0.4">381</text>
<text x="660.7" y="443.7" text-anchor="start" font-size="18.5" font-weight="bold">f</text>
<polyline fill="none" stroke="#333" stroke-width="0.7" stroke-linejoin="round" points="31.3,710.38 31.8,710.99 32.3,709.71 32.8,713.21 33.3,709.94 33.8,710.53 34.3,712.6 34.8,711.63 35.31,708.93 35.81,703.88 36.31,701.53 36.81,700.51 37.31,702.81 37.81,704.33 38.31,700.6 38.81,700.16 39.31,706.66 39.81,697.57 40.31,705.08 40.81,707.95 41.31,702.1 41.81,701.8 42.31,703.59 42.81,709.95 43.32,706.84 43.82,699.56 44.32,706.08 44.82,712.57 45.32,712.69 45.82,711.42 46.32,708.28 46.82,702.15 47.32,711.71 47.82,711.04 48.32,712.96 48.82,720.14 49.32,715.09 49.82,716.32 50.32,718.57 50.83,715.67 51.33,714.73 51.83,715.24 52.33,722.59 52.83,722.28 53.33,718.83 53.83,726.82 54.33,723.5 54.83,717.77 55.33,727.07 55.83,724.72 56.33,720.44 56.83,729.3 57.33,726.45 57.83,727.11 58.34,732.24 58.84,721.06 59.34,725.9 59.84,730.47 60.34,734.26 60.84,731.17 61.34,730.61 61.84,731.24 62.34,736.17 62.84,740.14 63.34,731.43 63.84,729.19 64.34,737.41 64.84,737.54 65.34,735.75 65.84,742.83 66.35,744.16 66.85,738.73 67.35,740.18 67.85,744.63 68.35,740.8 68.85,737.07 69.35,743.36 69.85,740.23 70.35,746.05 70.85,742.94 71.35,744.81 71.85,748.35 72.35,745.96 72.85,744.16 73.35,742.95 73.86,755.18 74.36,752.92 74.86,742.02 75.36,744.38 75.86,751.88 76.36,747.2 76.86,750.22 77.36,754.09 77.86,751.53 78.36,750.82 78.86,749.73 79.36,751.81 79.86,754.27 80.36,760.52 80.86,758.02 81.36,752.95 81.87,758.19 82.37,755.13 82.87,748.61 83.37,754.98 83.87,760.15 84.37,753.66 84.87,760.7 85.37,755.71 85.87,757.56 86.37,752.68 86.87,767.21 87.37,760.61 87.87,763.42 88.37,757.49 88.87,753.51 89.38,765.5 89.88,757.57 90.38,768.21 90.88,760.71 91.38,768.89 91.88,759.09 92.38,755.01 92.88,766.08 93.38,763.16 93.88,763.84 94.38,768.8 94.88,760.84 95.38,759.3 95.88,760.04 96.38,758.01 96.89,757.66 97.39,760.13 97.89,761.68 98.39,764.11 98.89,761.03 99.39,765.84 99.89,769.86 100.39,765.8 100.89,768.73 101.39,763.14 101.89,768.51 102.39,769.43 102.89,764.77 103.39,761.08 103.89,767.05 104.39,767.97 104.9,774.32 105.4,766.52 105.9,775.51 106.4,758.27 106.9,767.42 107.4,766.66 107.9,767.16 108.4,766.56 108.9,768.67 109.4,775.97 109.9,768.32 110.4,774.13 110.9,768.67 111.4,769.6 111.9,759.01 112.41,769.62 112.91,771.89 113.41,764.49 113.91,766.8 114.41,765.81 114.91,778.59 115.41,765.37 115.91,766.54 116.41,758.07 116.91,762.98 117.41,770.66 117.91,764.36 118.41,758.08 118.91,768.69 119.41,770.52 119.91,771.75 120.42,772.7 120.92,769.05 121.42,784.14 121.92,770.32 122.42,775.11 122.92,768.32 123.42,771.61 123.92,768.27 124.42,776.23 124.92,774.13 125.42,771.59 125.92,767.27 126.42,778.13 126.92,779.22 127.42,779.25 127.93,775.26 128.43,778.55 128.93,779.44 129.43,777.68 129.93,781.59 130.43,774.7 130.93,776.18 131.43,768.73 131.93,784.07 132.43,771.85 132.93,776.36 133.43,777.58 133.93,771.34 134.43,774.54 134.93,777.57 135.44,774.14 135.94,773.16 136.44,772.99 136.94,771.2 137.44,773.38 137.94,775.54 138.44,775.78 138.94,778.34 139.44,773.76 139.94,771.2 140.44,776.74 140.94,774.43 141.44,776.91 141.94,773.21 142.44,774.42 142.94,773.47 143.45,774.3 143.95,766.53 144.45,768.67 144.95,767.34 145.45,767.97 145.95,752.48 146.45,735.45 146.95,722.33 147.45,735.33 147.95,759.07 148.45,766.02 148.95,772.52 149.45,764.66 149.95,772.57 150.45,773.04 150.96,766.44 151.46,775.72 151.96,771.86 152.46,776.84 152.96,768.1 153.46,771.71 153.96,772.75 154.46,769.59 154.96,776.53 155.46,782.04 155.96,776.62 156.46,779.47 156.96,783.04 157.46,779.16 157.96,775.16 158.46,767.85 158.97,776.08 159.47,771.88 159.97,769.58 160.47,772.03 160.97,768.2 161.47,755.85 161.97,756.65 162.47,745.64 162.97,735.48 163.47,711.19 163.97,681.6 164.47,647.32 164.97,641.53 165.47,667.97 165.97,701.28 166.48,725.17 166.98,745.38 167.48,747.75 167.98,758.03 168.48,757.49 168.98,759.28 169.48,764.73 169.98,762.52 170.48,770.51 170.98,767.59 171.48,769.04 171.98,773.61 172.48,778.77 172.98,770.46 173.48,764.82 173.99,771.7 174.49,773.62 174.99,778.69 175.49,773.91 175.99,770.51 176.49,778.35 176.99,779.18 177.49,773.88 177.99,776.03 178.49,776.44 178.99,786.02 179.49,772.51 179.99,773.39 180.49,774.9 180.99,778.55 181.49,774.37 182,777.98 182.5,779.79 183,784.54 183.5,775.56 184,775.03 184.5,775.08 185,768.69 185.5,771.71 186,777.52 186.5,777.65 187,788.21 187.5,782.55 188,780.67 188.5,783.78 189,774.81 189.51,775.27 190.01,774.61 190.51,777.24 191.01,787.27 191.51,777.02 192.01,775.51 192.51,778.48 193.01,781.66 193.51,779.89 194.01,781.27 194.51,772.19 195.01,773.41 195.51,775.9 196.01,777.05 196.51,782.27 197.01,770.73 197.52,778.7 198.02,774.71 198.52,778.09 199.02,772.4 199.52,768.98 200.02,779.81 200.52,775.74 201.02,765.89 201.52,776.99 202.02,769.42 202.52,773.05 203.02,773.18 203.52,767.11 204.02,777.26 204.52,769.73 205.03,778.55 205.53,773.28 206.03,772.83 206.53,770.93 207.03,777.09 207.53,762.68 208.03,761.83 208.53,760.09 209.03,765.32 209.53,762.1 210.03,755.07 210.53,753.07 211.03,742.3 211.53,753.75 212.03,744.97 212.54,745.79 213.04,744.13 213.54,749.26 214.04,747.28 214.54,751.13 215.04,753.88 215.54,754.47 216.04,757.28 216.54,764.8 217.04,767.73 217.54,771.92 218.04,777.31 218.54,767.65 219.04,766.6 219.54,774.05 220.04,782.27 220.55,777.33 221.05,770.28 221.55,785.87 222.05,781.91 222.55,773.97 223.05,777.49 223.55,782.11 224.05,779.87 224.55,782.26 225.05,785.67 225.55,784.04 226.05,790.62 226.55,784.36 227.05,792.21 227.55,783.82 228.06,781.89 228.56,778.46 229.06,784.35 229.56,789.08 230.06,792.92 230.56,773.98 231.06,788.7 231.56,784.72 232.06,792.03 232.56,786.8 233.06,790.37 233.56,796.92 234.06,789.65 234.56,788.49 235.06,793.52 235.56,790.59 236.07,788.51 236.57,782.49 237.07,787.94 237.57,782.33 238.07,790.44 238.57,792.09 239.07,789.93 239.57,797.66 240.07,784.83 240.57,791.57 241.07,790.02 241.57,784.81 242.07,792.11 242.57,793.57 243.07,794.89 243.58,789.38 244.08,792.9 244.58,787.36 245.08,796.67 245.58,798.05 246.08,791.05 246.58,791.41 247.08,785.9 247.58,790.65 248.08,789.02 248.58,791.64 249.08,784.65 249.58,798.4 250.08,791.64 250.58,795.55 251.09,793.06 251.59,789.75 252.09,799.33 252.59,795.91 253.09,784.75 253.59,791.11 254.09,790.25 254.59,787.8 255.09,800.37 255.59,785.6 256.09,797.22 256.59,783.05 257.09,796.16 257.59,787.78 258.09,780.18 258.59,790.84 259.1,791.54 259.6,785.34 260.1,793.74 260.6,781.61 261.1,793.54 261.6,791.01 262.1,796.01 262.6,786.37 263.1,791.68 263.6,785.17 264.1,791.04 264.6,788.36 265.1,790.55 265.6,781.37 266.1,788.81 266.61,788.09 267.11,793 267.61,785.35 268.11,786.32 268.61,790.18 269.11,789.98 269.61,777.13 270.11,787.08 270.61,792.29 271.11,787.36 271.61,781.18 272.11,787.97 272.61,789.65 273.11,785.89 273.61,790.69 274.11,785.89 274.62,790.08 275.12,791.56 275.62,799.16 276.12,793.32 276.62,797.58 277.12,793.33 277.62,787.79 278.12,788 278.62,796.69 279.12,786.68 279.62,786.71 280.12,797.32 280.62,789.75 281.12,788.15 281.62,800.06 282.13,789.04 282.63,795.27 283.13,792.34 283.63,792.9 284.13,792.37 284.63,796.36 285.13,798.25 285.63,787.69 286.13,798.14 286.63,790.47 287.13,790.51 287.63,794.04 288.13,788.6 288.63,786.8 289.13,797.15 289.64,787.99 290.14,781.2 290.64,775.99 291.14,791.39 291.64,789.21 292.14,797.15 292.64,784.52 293.14,769 293.64,789.58 294.14,795.17 294.64,795.49 295.14,789.56 295.64,786.63 296.14,789.97 296.64,795.94 297.14,789.04 297.65,787.45 298.15,791.29 298.65,790.23 299.15,789.84 299.65,798.3 300.15,792.23 300.65,789.85 301.15,787.84 301.65,788.18 302.15,791.51 302.65,792.44 303.15,786.6 303.65,787.05 304.15,788.13 304.65,785.26 305.16,794 305.66,785.4 306.16,789.92 306.66,793.5 307.16,785.01 307.66,785.56 308.16,788.62 308.66,791.39 309.16,790 309.66,789.42 310.16,794.57 310.66,786.72 311.16,786.25 311.66,791.96 312.16,789.66 312.66,793.22 313.17,793.79 313.67,784.41 314.17,780.12 314.67,791.49 315.17,788.9 315.67,790.29 316.17,785.19 316.67,792.5 317.17,788.05 317.67,791.37 318.17,792.9 318.67,789.43 319.17,788.54 319.67,785.93 320.17,800.46 320.68,782.97 321.18,791.86 321.68,782.32 322.18,785.22 322.68,794.79 323.18,785.56 323.68,793.25 324.18,787.01 324.68,792.41 325.18,782.5 325.68,783.67 326.18,794.81 326.68,789.93 327.18,784 327.68,786.35 328.19,776.4 328.69,786.96 329.19,782.58 329.69,784.09 330.19,794.71 330.69,785.84 331.19,785.47 331.69,783.33 332.19,790.99 332.69,790.44 333.19,784.4 333.69,780.84 334.19,787.05 334.69,788.48 335.19,779.33 335.69,792.8 336.2,783.89 336.7,788.22 337.2,784.39 337.7,784.43 338.2,791.71 338.7,788.08 339.2,781.11 339.7,789.13"/>
<text transform="translate(148.96,709.4) rotate(-90)" text-anchor="middle" font-size="9.5" font-weight="normal" stroke="#000" stroke-width="0.4">343</text>
<text transform="translate(177.46,659.7) rotate(-90)" text-anchor="middle" font-size="9.5" font-weight="normal" stroke="#000" stroke-width="0.4">381</text>
<text transform="translate(216.96,718.7) rotate(-90)" text-anchor="middle" font-size="9.5" font-weight="normal" stroke="#000" stroke-width="0.4">455-473</text>
<text x="321.5" y="651.5" text-anchor="start" font-size="18.5" font-weight="bold">g</text>
<polyline fill="none" stroke="#333" stroke-width="0.7" stroke-linejoin="round" points="364.1,701.81 364.6,708.05 365.1,705.52 365.6,693.4 366.1,692.95 366.6,689.86 367.1,694.72 367.6,689.55 368.11,694.08 368.61,678.23 369.11,698.43 369.61,726 370.11,692.54 370.61,687.35 371.11,685.84 371.61,691.7 372.11,694.67 372.61,689.31 373.11,690.4 373.61,696.24 374.11,687.7 374.61,684.64 375.11,696.89 375.61,691.3 376.12,684.55 376.62,691.75 377.12,694.39 377.62,690.6 378.12,689.37 378.62,699.1 379.12,704.83 379.62,698.61 380.12,696.15 380.62,703.64 381.12,706.35 381.62,700.96 382.12,706.75 382.62,710.46 383.12,703.68 383.63,700.76 384.13,708.44 384.63,708.56 385.13,714.39 385.63,700.81 386.13,705.26 386.63,704.92 387.13,700.27 387.63,712.15 388.13,715.27 388.63,708.39 389.13,721.85 389.63,719.19 390.13,718.74 390.63,718.11 391.13,722.11 391.64,708.99 392.14,721.25 392.64,721.78 393.14,708.15 393.64,721.44 394.14,718.45 394.64,725.23 395.14,718.5 395.64,721.62 396.14,724.38 396.64,717.66 397.14,727.1 397.64,723.48 398.14,727.66 398.64,722.16 399.15,732.41 399.65,730.11 400.15,726.01 400.65,731.46 401.15,735.82 401.65,739.6 402.15,720.01 402.65,735.35 403.15,733.43 403.65,730.86 404.15,726.18 404.65,740.56 405.15,726.25 405.65,738.02 406.15,743.23 406.66,726.63 407.16,735.21 407.66,729.97 408.16,740.08 408.66,748.5 409.16,752.36 409.66,730.35 410.16,738.37 410.66,746.84 411.16,752.89 411.66,746.74 412.16,740.54 412.66,747.6 413.16,746.52 413.66,746.19 414.16,743.81 414.67,751.34 415.17,751.66 415.67,749.59 416.17,749.12 416.67,743.04 417.17,748.13 417.67,758.59 418.17,750.51 418.67,743.32 419.17,760.26 419.67,755.73 420.17,765.5 420.67,753.53 421.17,750.69 421.67,745.07 422.18,761.99 422.68,769.76 423.18,749.73 423.68,751.07 424.18,758.83 424.68,750.57 425.18,754.23 425.68,754.05 426.18,757.6 426.68,763.32 427.18,757.18 427.68,762.78 428.18,754.94 428.68,759.62 429.18,745.03 429.68,749.35 430.19,763.01 430.69,754.89 431.19,762.1 431.69,762.07 432.19,766.94 432.69,764.07 433.19,765.49 433.69,758.92 434.19,755.59 434.69,783.8 435.19,757.24 435.69,753.58 436.19,757.27 436.69,760.19 437.19,762.44 437.7,759.09 438.2,749.79 438.7,761.08 439.2,763.05 439.7,768.48 440.2,765.74 440.7,758.72 441.2,758.54 441.7,775.23 442.2,768.01 442.7,774.76 443.2,776.84 443.7,759.47 444.2,766.98 444.7,767.72 445.2,768.63 445.71,768.82 446.21,767.08 446.71,767.21 447.21,757.46 447.71,765.77 448.21,762.58 448.71,768.11 449.21,764.85 449.71,771.66 450.21,773.15 450.71,770.39 451.21,770.73 451.71,769.6 452.21,766.55 452.71,768.43 453.22,766.63 453.72,772.11 454.22,770.05 454.72,773.63 455.22,762.38 455.72,775.83 456.22,766.14 456.72,766.49 457.22,769.89 457.72,767.88 458.22,773.17 458.72,768.18 459.22,765.39 459.72,766.91 460.22,779.99 460.72,772.59 461.23,765.53 461.73,772.73 462.23,763.56 462.73,783.71 463.23,764.1 463.73,775.78 464.23,775.65 464.73,763.24 465.23,773.16 465.73,776.78 466.23,773.11 466.73,771.35 467.23,774.92 467.73,769.71 468.23,770.22 468.74,766.94 469.24,770.9 469.74,761.06 470.24,770.77 470.74,762.58 471.24,758.61 471.74,766.62 472.24,773.78 472.74,768.79 473.24,759.69 473.74,766.4 474.24,759.38 474.74,760.77 475.24,761.3 475.74,747.18 476.24,759.61 476.75,751.44 477.25,750.56 477.75,743.19 478.25,737.36 478.75,730.51 479.25,723.31 479.75,721.4 480.25,728.22 480.75,742.53 481.25,746.1 481.75,743.52 482.25,756.48 482.75,760.26 483.25,757.08 483.75,762 484.26,763.26 484.76,754.79 485.26,751.12 485.76,758.44 486.26,758.55 486.76,757.72 487.26,765.5 487.76,769.71 488.26,756.88 488.76,763.11 489.26,764.07 489.76,762.08 490.26,763.23 490.76,753.63 491.26,758.94 491.77,764.82 492.27,783.8 492.77,743.64 493.27,746.92 493.77,745.8 494.27,734.17 494.77,720.67 495.27,723.27 495.77,694.31 496.27,690.1 496.77,670.73 497.27,647.99 497.77,650.99 498.27,642.5 498.77,639.63 499.27,663.53 499.78,673.77 500.28,681.14 500.78,702.62 501.28,720.12 501.78,731.89 502.28,736.71 502.78,742.11 503.28,749.57 503.78,749.49 504.28,761.07 504.78,757.62 505.28,760.76 505.78,764.15 506.28,756.21 506.78,759.69 507.29,741.6 507.79,768.22 508.29,765.45 508.79,770.02 509.29,765.83 509.79,771.05 510.29,765.69 510.79,771.35 511.29,760.21 511.79,777.57 512.29,766.41 512.79,759.88 513.29,767.85 513.79,766.78 514.29,769.71 514.79,761.7 515.3,770.7 515.8,789.78 516.3,760.13 516.8,769.54 517.3,765.36 517.8,768.07 518.3,755.74 518.8,759.38 519.3,769.65 519.8,767.89 520.3,779.14 520.8,766.32 521.3,772.8 521.8,790.43 522.3,769.57 522.81,769.94 523.31,776.34 523.81,777.47 524.31,783.99 524.81,780.88 525.31,776.75 525.81,783.73 526.31,799.46 526.81,792.44 527.31,769.3 527.81,786.3 528.31,782.33 528.81,791.27 529.31,786.47 529.81,799.06 530.31,793.02 530.82,792.73 531.32,788.47 531.82,787.07 532.32,789.31 532.82,795 533.32,790.39 533.82,785.03 534.32,794.74 534.82,788.2 535.32,786.53 535.82,782.21 536.32,783.51 536.82,783.04 537.32,770.06 537.82,792.85 538.33,790.1 538.83,785.37 539.33,792.87 539.83,789.17 540.33,788.72 540.83,771.6 541.33,784.99 541.83,789.52 542.33,795.93 542.83,797.26 543.33,794.72 543.83,779.14 544.33,772.87 544.83,789.42 545.33,786.11 545.83,791.66 546.34,785.07 546.84,787.09 547.34,776.72 547.84,788.34 548.34,783.04 548.84,787.92 549.34,788.68 549.84,785.33 550.34,788.04 550.84,786.16 551.34,790.9 551.84,789.47 552.34,783.28 552.84,783.14 553.34,797.23 553.85,786.27 554.35,792.93 554.85,789.45 555.35,783.81 555.85,782.81 556.35,788.12 556.85,789.05 557.35,791.3 557.85,780.12 558.35,784.25 558.85,787.36 559.35,797.63 559.85,773.98 560.35,790.87 560.85,785.1 561.36,791.05 561.86,785.64 562.36,790.91 562.86,798.23 563.36,791.1 563.86,791.7 564.36,791.47 564.86,784.86 565.36,792.74 565.86,788.36 566.36,784.87 566.86,789.64 567.36,788.63 567.86,794.64 568.36,789.99 568.86,787.2 569.37,799.24 569.87,796.56 570.37,798.37 570.87,794.53 571.37,790.35 571.87,788.62 572.37,789.59 572.87,797.08 573.37,792.19 573.87,782.75 574.37,791.54 574.87,783.4 575.37,793.02 575.87,784.93 576.37,784.7 576.88,793.12 577.38,792.06 577.88,782.69 578.38,797.27 578.88,805.89 579.38,784.15 579.88,804.08 580.38,789.16 580.88,790.45 581.38,792.47 581.88,784.75 582.38,801.01 582.88,795.98 583.38,788.31 583.88,790.96 584.38,783.33 584.89,790.14 585.39,797.64 585.89,781.54 586.39,789.01 586.89,792.31 587.39,797.52 587.89,799.13 588.39,788.09 588.89,786.19 589.39,793.14 589.89,788.06 590.39,788.18 590.89,796.32 591.39,799.78 591.89,791.03 592.4,788.09 592.9,792.47 593.4,777.52 593.9,788.53 594.4,782.08 594.9,802.58 595.4,792.37 595.9,788.69 596.4,786.48 596.9,772.36 597.4,791.52 597.9,796.82 598.4,782.48 598.9,790.75 599.4,790.79 599.9,776.96 600.41,791.67 600.91,793.98 601.41,787.02 601.91,785.07 602.41,789.98 602.91,775.81 603.41,785.41 603.91,790.98 604.41,777 604.91,790.21 605.41,781.55 605.91,771.37 606.41,783.02 606.91,777.63 607.41,785.4 607.92,776.52 608.42,789.92 608.92,779.26 609.42,785.9 609.92,780.27 610.42,781.97 610.92,791.12 611.42,785.34 611.92,781.74 612.42,776.68 612.92,791.21 613.42,788.72 613.92,782.44 614.42,785.92 614.92,778.36 615.42,778.52 615.93,779.72 616.43,786.87 616.93,786.59 617.43,780.41 617.93,789.38 618.43,789.73 618.93,786.13 619.43,791.4 619.93,783.51 620.43,784.63 620.93,788.21 621.43,785.24 621.93,790.28 622.43,778.07 622.93,794.21 623.44,781.04 623.94,784.81 624.44,777.6 624.94,789.54 625.44,793.54 625.94,792.28 626.44,790.8 626.94,776.41 627.44,781.01 627.94,782.88 628.44,780 628.94,792.3 629.44,786.62 629.94,785.32 630.44,788.34 630.94,779.66 631.45,779.87 631.95,779.98 632.45,788.21 632.95,787.22 633.45,788.59 633.95,791.54 634.45,776.88 634.95,781.61 635.45,785.81 635.95,776.79 636.45,781.64 636.95,790.87 637.45,791.35 637.95,791.14 638.45,784.89 638.96,783.31 639.46,791.01 639.96,782.25 640.46,786.47 640.96,792.34 641.46,782.14 641.96,780.63 642.46,784.19 642.96,787.79 643.46,787.04 643.96,785.03 644.46,787.39 644.96,774.4 645.46,778.8 645.96,784.88 646.47,778.28 646.97,775.76 647.47,776.51 647.97,778.2 648.47,782.59 648.97,777.48 649.47,784.97 649.97,793.69 650.47,782.58 650.97,791.16 651.47,785.3 651.97,776.9 652.47,782.14 652.97,777.84 653.47,788.39 653.97,776.92 654.48,791.83 654.98,787.42 655.48,771.87 655.98,788.77 656.48,793.43 656.98,779.43 657.48,790.13 657.98,773.49 658.48,785.85 658.98,774.42 659.48,787.34 659.98,773.77 660.48,768.75 660.98,786.98 661.48,798.39 661.99,781.14 662.49,789.75 662.99,785.49 663.49,782.94 663.99,788.63 664.49,794.84 664.99,777.63 665.49,788.48 665.99,787.22 666.49,776.66 666.99,794.95 667.49,797.01 667.99,779.65 668.49,795.85 668.99,785.82 669.49,784.55 670,794.61 670.5,787.01 671,787.64 671.5,794.86 672,793.54 672.5,791.22 673,777.51 673.5,776.54"/>
<text transform="translate(480.36,704.9) rotate(-90)" text-anchor="middle" font-size="9.5" font-weight="normal" stroke="#000" stroke-width="0.4">343</text>
<text transform="translate(513.36,656) rotate(-90)" text-anchor="middle" font-size="9.5" font-weight="normal" stroke="#000" stroke-width="0.4">381</text>
<text x="656.7" y="653" text-anchor="start" font-size="18.5" font-weight="bold">h</text>
<text transform="translate(14.5,400.7) rotate(-90)" text-anchor="middle" font-size="19.5" font-weight="bold">Intensity (A.U.)</text>
<text x="248.8" y="852.6" font-size="19.5" font-weight="bold">Raman shift (cm<tspan font-size="12.3" dx="1.2" dy="-6.8">-1</tspan><tspan dx="0.4" dy="6.8">)</tspan></text>
</svg>
</body></html>
